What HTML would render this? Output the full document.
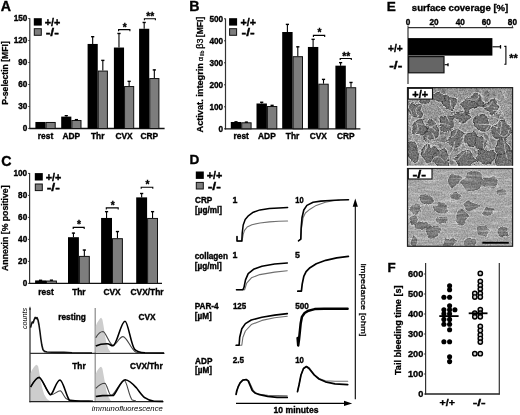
<!DOCTYPE html>
<html><head><meta charset="utf-8"><title>Figure</title>
<style>html,body{margin:0;padding:0;background:#fff;overflow:hidden;}svg{display:block;filter:blur(0.35px);}text{font-family:"Liberation Sans", Arial, sans-serif;fill:#000;}.b{stroke:#000;stroke-width:0.35px;}.b2{stroke:#000;stroke-width:0.25px;}</style>
</head><body>
<svg width="520" height="415" viewBox="0 0 520 415">
<rect width="520" height="415" fill="#fff"/>
<text id="t0" x="0.80" y="10.60" font-size="14.2" font-weight="bold" text-anchor="start" class="b" >A</text>
<line x1="29.8" y1="18.2" x2="29.8" y2="129.1" stroke="#333" stroke-width="1.2" />
<line x1="29.2" y1="128.5" x2="164.6" y2="128.5" stroke="#111" stroke-width="1.3" />
<line x1="28.3" y1="128.5" x2="29.8" y2="128.5" stroke="#333" stroke-width="1" />
<text id="t1" x="27.40" y="131.40" font-size="8.2" font-weight="bold" text-anchor="end" class="b" >0</text>
<line x1="28.3" y1="106.5" x2="29.8" y2="106.5" stroke="#333" stroke-width="1" />
<text id="t2" x="27.40" y="109.40" font-size="8.2" font-weight="bold" text-anchor="end" class="b" >30</text>
<line x1="28.3" y1="84.5" x2="29.8" y2="84.5" stroke="#333" stroke-width="1" />
<text id="t3" x="27.40" y="87.40" font-size="8.2" font-weight="bold" text-anchor="end" class="b" >60</text>
<line x1="28.3" y1="62.5" x2="29.8" y2="62.5" stroke="#333" stroke-width="1" />
<text id="t4" x="27.40" y="65.40" font-size="8.2" font-weight="bold" text-anchor="end" class="b" >90</text>
<line x1="28.3" y1="40.5" x2="29.8" y2="40.5" stroke="#333" stroke-width="1" />
<text id="t5" x="27.40" y="43.40" font-size="8.2" font-weight="bold" text-anchor="end" class="b" >120</text>
<line x1="28.3" y1="18.500000000000014" x2="29.8" y2="18.500000000000014" stroke="#333" stroke-width="1" />
<text id="t6" x="27.40" y="21.40" font-size="8.2" font-weight="bold" text-anchor="end" class="b" >150</text>
<rect x="35.40" y="121.97" width="10.15" height="6.53" fill="#000" />
<rect x="46.05" y="122.47" width="9.15" height="6.03" fill="#7d7d7d" stroke="#111" stroke-width="1"/>
<text id="t7" x="45.55" y="139.10" font-size="8.4" font-weight="bold" text-anchor="middle" class="b" >rest</text>
<rect x="61.20" y="116.62" width="10.15" height="11.88" fill="#000" />
<rect x="71.85" y="120.49" width="9.15" height="8.01" fill="#7d7d7d" stroke="#111" stroke-width="1"/>
<line x1="66.275" y1="116.62" x2="66.275" y2="115.37333333333333" stroke="#000" stroke-width="1.1" />
<line x1="64.67500000000001" y1="115.67333333333333" x2="67.875" y2="115.67333333333333" stroke="#000" stroke-width="1.4" />
<line x1="76.42500000000001" y1="119.99333333333334" x2="76.42500000000001" y2="119.33333333333333" stroke="#000" stroke-width="1.1" />
<line x1="74.82500000000002" y1="119.63333333333333" x2="78.025" y2="119.63333333333333" stroke="#000" stroke-width="1.4" />
<text id="t8" x="71.35" y="139.10" font-size="8.4" font-weight="bold" text-anchor="middle" class="b" >ADP</text>
<rect x="87.60" y="43.95" width="10.15" height="84.55" fill="#000" />
<rect x="98.25" y="71.07" width="9.15" height="57.43" fill="#7d7d7d" stroke="#111" stroke-width="1"/>
<line x1="92.675" y1="43.94666666666667" x2="92.675" y2="36.393333333333345" stroke="#000" stroke-width="1.1" />
<line x1="91.075" y1="36.69333333333334" x2="94.27499999999999" y2="36.69333333333334" stroke="#000" stroke-width="1.4" />
<line x1="102.82499999999999" y1="70.56666666666666" x2="102.82499999999999" y2="60.08000000000001" stroke="#000" stroke-width="1.1" />
<line x1="101.225" y1="60.38000000000001" x2="104.42499999999998" y2="60.38000000000001" stroke="#000" stroke-width="1.4" />
<text id="t9" x="97.75" y="139.10" font-size="8.4" font-weight="bold" text-anchor="middle" class="b" >Thr</text>
<rect x="113.90" y="47.54" width="10.15" height="80.96" fill="#000" />
<rect x="124.55" y="86.54" width="9.15" height="41.96" fill="#7d7d7d" stroke="#111" stroke-width="1"/>
<line x1="118.97500000000001" y1="47.540000000000006" x2="118.97500000000001" y2="33.16666666666667" stroke="#000" stroke-width="1.1" />
<line x1="117.37500000000001" y1="33.46666666666667" x2="120.575" y2="33.46666666666667" stroke="#000" stroke-width="1.4" />
<line x1="129.125" y1="86.04" x2="129.125" y2="81.05333333333334" stroke="#000" stroke-width="1.1" />
<line x1="127.525" y1="81.35333333333334" x2="130.725" y2="81.35333333333334" stroke="#000" stroke-width="1.4" />
<text id="t10" x="124.05" y="139.10" font-size="8.4" font-weight="bold" text-anchor="middle" class="b" >CVX</text>
<rect x="139.10" y="28.77" width="10.15" height="99.73" fill="#000" />
<rect x="149.75" y="78.55" width="9.15" height="49.95" fill="#7d7d7d" stroke="#111" stroke-width="1"/>
<line x1="144.17499999999998" y1="28.76666666666668" x2="144.17499999999998" y2="22.16666666666667" stroke="#000" stroke-width="1.1" />
<line x1="142.575" y1="22.466666666666672" x2="145.77499999999998" y2="22.466666666666672" stroke="#000" stroke-width="1.4" />
<line x1="154.325" y1="78.04666666666668" x2="154.325" y2="69.61333333333334" stroke="#000" stroke-width="1.1" />
<line x1="152.725" y1="69.91333333333334" x2="155.92499999999998" y2="69.91333333333334" stroke="#000" stroke-width="1.4" />
<text id="t11" x="149.25" y="139.10" font-size="8.4" font-weight="bold" text-anchor="middle" class="b" >CRP</text>
<path d="M118.6 31.200000000000003V29.6H129.9V31.200000000000003" fill="none" stroke="#000" stroke-width="1.1"/>
<text id="t12" x="124.65" y="30.60" font-size="10.2" font-weight="bold" text-anchor="middle" class="b" >*</text>
<path d="M144.4 20.3V18.7H155.4V20.3" fill="none" stroke="#000" stroke-width="1.1"/>
<text id="t13" x="150.30" y="19.70" font-size="10.2" font-weight="bold" text-anchor="middle" class="b" >**</text>
<rect x="33.80" y="18.20" width="8.00" height="7.40" fill="#000" />
<rect x="34.30" y="28.70" width="7" height="6.6000000000000005" fill="#7d7d7d" stroke="#111" stroke-width="1"/>
<text id="t14" x="44.70" y="26.10" font-size="10.4" font-weight="bold" text-anchor="start" class="b" textLength="15.6" lengthAdjust="spacingAndGlyphs" >+/+</text>
<text id="t15" x="45.70" y="36.10" font-size="10.4" font-weight="bold" text-anchor="start" class="b" textLength="13.2" lengthAdjust="spacingAndGlyphs" >-/-</text>
<text id="t16" transform="translate(8.00,73.00) rotate(-90)" font-size="8.6" font-weight="bold" text-anchor="middle" class="b2" >P-selectin [MFI]</text>
<text id="t17" x="189.20" y="10.60" font-size="14.2" font-weight="bold" text-anchor="start" class="b" >B</text>
<line x1="225.5" y1="18.5" x2="225.5" y2="129.4" stroke="#333" stroke-width="1.2" />
<line x1="224.9" y1="128.8" x2="360.4" y2="128.8" stroke="#111" stroke-width="1.3" />
<line x1="224.0" y1="128.8" x2="225.5" y2="128.8" stroke="#333" stroke-width="1" />
<text id="t18" x="223.10" y="131.70" font-size="8.2" font-weight="bold" text-anchor="end" class="b" >0</text>
<line x1="224.0" y1="106.80000000000001" x2="225.5" y2="106.80000000000001" stroke="#333" stroke-width="1" />
<text id="t19" x="223.10" y="109.70" font-size="8.2" font-weight="bold" text-anchor="end" class="b" >100</text>
<line x1="224.0" y1="84.80000000000001" x2="225.5" y2="84.80000000000001" stroke="#333" stroke-width="1" />
<text id="t20" x="223.10" y="87.70" font-size="8.2" font-weight="bold" text-anchor="end" class="b" >200</text>
<line x1="224.0" y1="62.80000000000001" x2="225.5" y2="62.80000000000001" stroke="#333" stroke-width="1" />
<text id="t21" x="223.10" y="65.70" font-size="8.2" font-weight="bold" text-anchor="end" class="b" >300</text>
<line x1="224.0" y1="40.80000000000001" x2="225.5" y2="40.80000000000001" stroke="#333" stroke-width="1" />
<text id="t22" x="223.10" y="43.70" font-size="8.2" font-weight="bold" text-anchor="end" class="b" >400</text>
<line x1="224.0" y1="18.80000000000001" x2="225.5" y2="18.80000000000001" stroke="#333" stroke-width="1" />
<text id="t23" x="223.10" y="21.70" font-size="8.2" font-weight="bold" text-anchor="end" class="b" >500</text>
<rect x="230.80" y="121.98" width="10.40" height="6.82" fill="#000" />
<rect x="241.70" y="122.81" width="9.40" height="5.99" fill="#7d7d7d" stroke="#111" stroke-width="1"/>
<line x1="236.0" y1="121.98000000000002" x2="236.0" y2="121.54" stroke="#000" stroke-width="1.1" />
<line x1="234.4" y1="121.84" x2="237.6" y2="121.84" stroke="#000" stroke-width="1.4" />
<line x1="246.4" y1="122.31000000000002" x2="246.4" y2="121.87" stroke="#000" stroke-width="1.1" />
<line x1="244.8" y1="122.17" x2="248.0" y2="122.17" stroke="#000" stroke-width="1.4" />
<text id="t24" x="241.20" y="139.40" font-size="8.4" font-weight="bold" text-anchor="middle" class="b" >rest</text>
<rect x="256.50" y="103.50" width="10.40" height="25.30" fill="#000" />
<rect x="267.40" y="106.51" width="9.40" height="22.29" fill="#7d7d7d" stroke="#111" stroke-width="1"/>
<line x1="261.7" y1="103.50000000000001" x2="261.7" y2="101.96000000000001" stroke="#000" stroke-width="1.1" />
<line x1="260.09999999999997" y1="102.26" x2="263.3" y2="102.26" stroke="#000" stroke-width="1.4" />
<line x1="272.1" y1="106.00800000000001" x2="272.1" y2="105.04" stroke="#000" stroke-width="1.1" />
<line x1="270.5" y1="105.34" x2="273.70000000000005" y2="105.34" stroke="#000" stroke-width="1.4" />
<text id="t25" x="266.90" y="139.40" font-size="8.4" font-weight="bold" text-anchor="middle" class="b" >ADP</text>
<rect x="282.20" y="32.00" width="10.40" height="96.80" fill="#000" />
<rect x="293.10" y="56.70" width="9.40" height="72.10" fill="#7d7d7d" stroke="#111" stroke-width="1"/>
<line x1="287.4" y1="32.000000000000014" x2="287.4" y2="24.080000000000013" stroke="#000" stroke-width="1.1" />
<line x1="285.79999999999995" y1="24.380000000000013" x2="289.0" y2="24.380000000000013" stroke="#000" stroke-width="1.4" />
<line x1="297.8" y1="56.20000000000002" x2="297.8" y2="46.52000000000001" stroke="#000" stroke-width="1.1" />
<line x1="296.2" y1="46.82000000000001" x2="299.40000000000003" y2="46.82000000000001" stroke="#000" stroke-width="1.4" />
<text id="t26" x="292.60" y="139.40" font-size="8.4" font-weight="bold" text-anchor="middle" class="b" >Thr</text>
<rect x="307.90" y="46.96" width="10.40" height="81.84" fill="#000" />
<rect x="318.80" y="84.20" width="9.40" height="44.60" fill="#7d7d7d" stroke="#111" stroke-width="1"/>
<line x1="313.09999999999997" y1="46.96000000000001" x2="313.09999999999997" y2="39.040000000000006" stroke="#000" stroke-width="1.1" />
<line x1="311.49999999999994" y1="39.34" x2="314.7" y2="39.34" stroke="#000" stroke-width="1.4" />
<line x1="323.5" y1="83.70000000000002" x2="323.5" y2="79.08000000000001" stroke="#000" stroke-width="1.1" />
<line x1="321.9" y1="79.38000000000001" x2="325.1" y2="79.38000000000001" stroke="#000" stroke-width="1.4" />
<text id="t27" x="318.30" y="139.40" font-size="8.4" font-weight="bold" text-anchor="middle" class="b" >CVX</text>
<rect x="335.40" y="65.66" width="10.40" height="63.14" fill="#000" />
<rect x="346.30" y="87.72" width="9.40" height="41.08" fill="#7d7d7d" stroke="#111" stroke-width="1"/>
<line x1="340.59999999999997" y1="65.66000000000001" x2="340.59999999999997" y2="62.360000000000014" stroke="#000" stroke-width="1.1" />
<line x1="338.99999999999994" y1="62.66000000000001" x2="342.2" y2="62.66000000000001" stroke="#000" stroke-width="1.4" />
<line x1="351.0" y1="87.22000000000001" x2="351.0" y2="82.16000000000001" stroke="#000" stroke-width="1.1" />
<line x1="349.4" y1="82.46000000000001" x2="352.6" y2="82.46000000000001" stroke="#000" stroke-width="1.4" />
<text id="t28" x="345.80" y="139.40" font-size="8.4" font-weight="bold" text-anchor="middle" class="b" >CRP</text>
<path d="M313.4 37.0V35.4H324.7V37.0" fill="none" stroke="#000" stroke-width="1.1"/>
<text id="t29" x="319.45" y="36.40" font-size="10.2" font-weight="bold" text-anchor="middle" class="b" >*</text>
<path d="M340.2 60.1V58.5H351.3V60.1" fill="none" stroke="#000" stroke-width="1.1"/>
<text id="t30" x="346.15" y="59.50" font-size="10.2" font-weight="bold" text-anchor="middle" class="b" >**</text>
<rect x="229.10" y="18.20" width="8.00" height="7.40" fill="#000" />
<rect x="229.60" y="28.70" width="7" height="6.6000000000000005" fill="#7d7d7d" stroke="#111" stroke-width="1"/>
<text id="t31" x="240.50" y="26.10" font-size="10.4" font-weight="bold" text-anchor="start" class="b" textLength="15.6" lengthAdjust="spacingAndGlyphs" >+/+</text>
<text id="t32" x="241.50" y="36.10" font-size="10.4" font-weight="bold" text-anchor="start" class="b" textLength="13.2" lengthAdjust="spacingAndGlyphs" >-/-</text>
<text id="t33" transform="translate(202.60,132.50) rotate(-90)" font-size="9.2" font-weight="bold" text-anchor="start" class="b2" >Activat. integrin</text>
<text id="t34" transform="translate(202.60,61.20) rotate(-90)" font-size="7.6" font-weight="normal" text-anchor="start" stroke="#000" stroke-width="0.25">&#945;</text>
<text id="t35" transform="translate(203.80,56.40) rotate(-90)" font-size="5.2" font-weight="normal" text-anchor="start" stroke="#000" stroke-width="0.2">IIb</text>
<text id="t36" transform="translate(202.60,48.80) rotate(-90)" font-size="9" font-weight="normal" text-anchor="start" stroke="#000" stroke-width="0.3">&#946;3</text>
<text id="t37" transform="translate(202.60,37.20) rotate(-90)" font-size="8.6" font-weight="bold" text-anchor="start" class="b2" >[MFI]</text>
<text id="t38" x="1.20" y="166.20" font-size="14.2" font-weight="bold" text-anchor="start" class="b" >C</text>
<line x1="29.6" y1="173" x2="29.6" y2="284.0" stroke="#333" stroke-width="1.2" />
<line x1="29.0" y1="283.4" x2="162" y2="283.4" stroke="#111" stroke-width="1.3" />
<line x1="28.1" y1="283.4" x2="29.6" y2="283.4" stroke="#333" stroke-width="1" />
<text id="t39" x="27.20" y="286.30" font-size="8.2" font-weight="bold" text-anchor="end" class="b" >0</text>
<line x1="28.1" y1="261.4" x2="29.6" y2="261.4" stroke="#333" stroke-width="1" />
<text id="t40" x="27.20" y="264.30" font-size="8.2" font-weight="bold" text-anchor="end" class="b" >20</text>
<line x1="28.1" y1="239.39999999999998" x2="29.6" y2="239.39999999999998" stroke="#333" stroke-width="1" />
<text id="t41" x="27.20" y="242.30" font-size="8.2" font-weight="bold" text-anchor="end" class="b" >40</text>
<line x1="28.1" y1="217.39999999999998" x2="29.6" y2="217.39999999999998" stroke="#333" stroke-width="1" />
<text id="t42" x="27.20" y="220.30" font-size="8.2" font-weight="bold" text-anchor="end" class="b" >60</text>
<line x1="28.1" y1="195.39999999999998" x2="29.6" y2="195.39999999999998" stroke="#333" stroke-width="1" />
<text id="t43" x="27.20" y="198.30" font-size="8.2" font-weight="bold" text-anchor="end" class="b" >80</text>
<line x1="28.1" y1="173.39999999999998" x2="29.6" y2="173.39999999999998" stroke="#333" stroke-width="1" />
<text id="t44" x="27.20" y="176.30" font-size="8.2" font-weight="bold" text-anchor="end" class="b" >100</text>
<rect x="35.10" y="280.43" width="10.90" height="2.97" fill="#000" />
<rect x="46.50" y="281.04" width="9.90" height="2.36" fill="#7d7d7d" stroke="#111" stroke-width="1"/>
<line x1="40.550000000000004" y1="280.42999999999995" x2="40.550000000000004" y2="279.98999999999995" stroke="#000" stroke-width="1.1" />
<line x1="38.95" y1="280.28999999999996" x2="42.150000000000006" y2="280.28999999999996" stroke="#000" stroke-width="1.4" />
<line x1="51.45" y1="280.53999999999996" x2="51.45" y2="279.88" stroke="#000" stroke-width="1.1" />
<line x1="49.85" y1="280.18" x2="53.050000000000004" y2="280.18" stroke="#000" stroke-width="1.4" />
<text id="t45" x="46.00" y="295.00" font-size="8.4" font-weight="bold" text-anchor="middle" class="b" >rest</text>
<rect x="68.00" y="237.20" width="10.90" height="46.20" fill="#000" />
<rect x="79.40" y="256.40" width="9.90" height="27.00" fill="#7d7d7d" stroke="#111" stroke-width="1"/>
<line x1="73.45" y1="237.2" x2="73.45" y2="232.79999999999998" stroke="#000" stroke-width="1.1" />
<line x1="71.85000000000001" y1="233.1" x2="75.05" y2="233.1" stroke="#000" stroke-width="1.4" />
<line x1="84.35" y1="255.89999999999998" x2="84.35" y2="249.73999999999998" stroke="#000" stroke-width="1.1" />
<line x1="82.75" y1="250.04" x2="85.94999999999999" y2="250.04" stroke="#000" stroke-width="1.4" />
<text id="t46" x="78.90" y="295.00" font-size="8.4" font-weight="bold" text-anchor="middle" class="b" >Thr</text>
<rect x="101.10" y="217.95" width="10.90" height="65.45" fill="#000" />
<rect x="112.50" y="238.69" width="9.90" height="44.71" fill="#7d7d7d" stroke="#111" stroke-width="1"/>
<line x1="106.55" y1="217.95" x2="106.55" y2="211.34999999999997" stroke="#000" stroke-width="1.1" />
<line x1="104.95" y1="211.64999999999998" x2="108.14999999999999" y2="211.64999999999998" stroke="#000" stroke-width="1.4" />
<line x1="117.44999999999999" y1="238.18999999999997" x2="117.44999999999999" y2="231.26" stroke="#000" stroke-width="1.1" />
<line x1="115.85" y1="231.56" x2="119.04999999999998" y2="231.56" stroke="#000" stroke-width="1.4" />
<text id="t47" x="112.00" y="295.00" font-size="8.4" font-weight="bold" text-anchor="middle" class="b" >CVX</text>
<rect x="136.20" y="197.38" width="10.90" height="86.02" fill="#000" />
<rect x="147.60" y="218.45" width="9.90" height="64.95" fill="#7d7d7d" stroke="#111" stroke-width="1"/>
<line x1="141.64999999999998" y1="197.37999999999997" x2="141.64999999999998" y2="193.2" stroke="#000" stroke-width="1.1" />
<line x1="140.04999999999998" y1="193.5" x2="143.24999999999997" y2="193.5" stroke="#000" stroke-width="1.4" />
<line x1="152.54999999999998" y1="217.95" x2="152.54999999999998" y2="211.34999999999997" stroke="#000" stroke-width="1.1" />
<line x1="150.95" y1="211.64999999999998" x2="154.14999999999998" y2="211.64999999999998" stroke="#000" stroke-width="1.4" />
<text id="t48" x="147.10" y="295.00" font-size="8.4" font-weight="bold" text-anchor="middle" class="b" >CVX/Thr</text>
<path d="M73.2 229.0V227.4H84.2V229.0" fill="none" stroke="#000" stroke-width="1.1"/>
<text id="t49" x="79.10" y="228.40" font-size="10.2" font-weight="bold" text-anchor="middle" class="b" >*</text>
<path d="M106.3 209.5V207.9H118.2V209.5" fill="none" stroke="#000" stroke-width="1.1"/>
<text id="t50" x="112.65" y="208.90" font-size="10.2" font-weight="bold" text-anchor="middle" class="b" >*</text>
<path d="M141.2 188.79999999999998V187.2H152.8V188.79999999999998" fill="none" stroke="#000" stroke-width="1.1"/>
<text id="t51" x="147.40" y="188.20" font-size="10.2" font-weight="bold" text-anchor="middle" class="b" >*</text>
<rect x="34.80" y="173.10" width="8.00" height="7.40" fill="#000" />
<rect x="35.30" y="184.00" width="7" height="6.6000000000000005" fill="#7d7d7d" stroke="#111" stroke-width="1"/>
<text id="t52" x="45.70" y="181.00" font-size="10.4" font-weight="bold" text-anchor="start" class="b" textLength="15.6" lengthAdjust="spacingAndGlyphs" >+/+</text>
<text id="t53" x="46.70" y="191.40" font-size="10.4" font-weight="bold" text-anchor="start" class="b" textLength="13.2" lengthAdjust="spacingAndGlyphs" >-/-</text>
<text id="t54" transform="translate(8.20,228.20) rotate(-90)" font-size="8.6" font-weight="bold" text-anchor="middle" class="b2" textLength="85.5" lengthAdjust="spacingAndGlyphs" >Annexin [% positive]</text>
<line x1="30" y1="309" x2="30" y2="402.2" stroke="#222" stroke-width="1.2" />
<path d="M28.9 309.5L30 306.2L31.1 309.5Z" fill="#111"/>
<line x1="95.2" y1="308" x2="95.2" y2="402.2" stroke="#888" stroke-width="1.2" />
<line x1="30" y1="353.3" x2="164.5" y2="353.3" stroke="#333" stroke-width="1.2" />
<line x1="29.4" y1="401.6" x2="163.5" y2="401.6" stroke="#222" stroke-width="1.3" />
<text id="t55" transform="translate(27.00,318.40) rotate(-90)" font-size="7.2" font-weight="normal" text-anchor="middle" font-style="italic">counts</text>
<text id="t56" x="58.20" y="320.40" font-size="8.3" font-weight="bold" text-anchor="start" class="b" >resting</text>
<text id="t57" x="138.50" y="320.20" font-size="8.3" font-weight="bold" text-anchor="start" class="b" >CVX</text>
<text id="t58" x="72.30" y="368.60" font-size="8.3" font-weight="bold" text-anchor="start" class="b" >Thr</text>
<text id="t59" x="129.90" y="368.80" font-size="8.3" font-weight="bold" text-anchor="start" class="b" >CVX/Thr</text>
<text id="t60" x="127.30" y="410.80" font-size="7.7" font-weight="normal" text-anchor="middle" font-style="italic">immunofluorescence</text>
<path d="M30.6 327.7 L31.2 325.0 L32.2 322.0 L33.2 322.8 L34.2 319.5 L35.2 317.4 L36.1 318.6 L37.0 317.6 L38.0 320.0 L39.0 325.0 L40.0 332.0 L40.8 338.5 L41.8 345.0 L43.0 349.8 L44.5 351.4 L47.0 352.0 L52.0 352.2 L58.0 352.4 L64.0 352.3 L72.0 352.8 L92.0 353.0" fill="none" stroke="#111" stroke-width="1.6" stroke-linejoin="round"/>
<path d="M95.8 326 L97 323 L99 320 L100.2 318.2 L101.2 317.8 L102.4 319.5 L103.4 325 L104.8 334 L106.2 342 L108.2 348.5 L111 352.8 L95.8 352.8Z" fill="#cdcdcd"/>
<path d="M95.8 337.7 C98 334 101 331.5 103 331.5 C106 332 109 344 113 345.4 C116 346 119 336.6 123 336.6 C127 336.6 131 350 136 352.3 L140 353" fill="none" stroke="#444" stroke-width="1.1"/>
<path d="M95.8 346 C100 344 104 343.8 107 343.8 C110 343.8 111 346 113 345.8 C117 345 121 321.2 125 321.2 C128 321.2 131 345 134.6 349.2 C137 352 140 352.5 145 352.8 L164 353" fill="none" stroke="#000" stroke-width="1.6"/>
<path d="M30.6 373 L32 370 L34 367 L35.6 365.2 L36.9 364.8 L38.2 366.5 L39.2 372 L40.6 380 L42.2 388 L44.2 394.5 L47 399 L50 401 L30.6 401Z" fill="#cdcdcd"/>
<path d="M30.6 387 C33 383 36 377 39.2 377 C42 378 46 390 50 394.6 C53 396 57 390.8 60.3 390.8 C62 391 64 397 66 398.5 L70 400.5" fill="none" stroke="#444" stroke-width="1.1"/>
<path d="M30.6 387 C33 383 36 377.5 39.2 377.5 C42 378 46 390 50 394.6 C53 396 56 380 60 380 C63 380.5 66 395 69.2 400 C71 401 80 401 93 401.2" fill="none" stroke="#000" stroke-width="1.6"/>
<path d="M95.8 374 L97 371 L98.8 368.5 L100.2 367 L101.2 366.8 L102.4 368.5 L103.4 374 L104.8 382 L106.2 390 L108.2 396.5 L111 401 L95.8 401Z" fill="#cdcdcd"/>
<path d="M95.8 388.3 C99 385 102 383.2 104.9 383.2 C107 384 109 395.4 111 395.4 C115 395 120 380.5 124.4 380.5 C127 381 129 397 132.3 400 L136 401" fill="none" stroke="#444" stroke-width="1.1"/>
<path d="M95.8 396.6 C100 395.5 108 395.4 113.5 395.4 C117 392 121 379.7 125.2 379.7 C129 380 133 384 136.2 387.6 C139 391 142 396 144.8 397.7 C148 400 151 401 154.2 401.3 L163 401.4" fill="none" stroke="#000" stroke-width="1.6"/>
<text id="t61" x="189.50" y="164.40" font-size="13.6" font-weight="bold" text-anchor="start" class="b" >D</text>
<rect x="195.80" y="171.50" width="8.00" height="7.40" fill="#000" />
<rect x="196.30" y="182.40" width="7" height="6.6000000000000005" fill="#7d7d7d" stroke="#111" stroke-width="1"/>
<text id="t62" x="206.70" y="179.40" font-size="10.4" font-weight="bold" text-anchor="start" class="b" textLength="15.6" lengthAdjust="spacingAndGlyphs" >+/+</text>
<text id="t63" x="207.70" y="189.80" font-size="10.4" font-weight="bold" text-anchor="start" class="b" textLength="13.2" lengthAdjust="spacingAndGlyphs" >-/-</text>
<text id="t64" x="195.00" y="203.20" font-size="8.2" font-weight="bold" text-anchor="start" class="b" >CRP</text>
<text id="t65" x="195.00" y="212.50" font-size="8.2" font-weight="bold" text-anchor="start" class="b" >[&#181;g/ml]</text>
<text id="t66" x="194.70" y="258.90" font-size="8.2" font-weight="bold" text-anchor="start" class="b" >collagen</text>
<text id="t67" x="194.70" y="268.90" font-size="8.2" font-weight="bold" text-anchor="start" class="b" >[&#181;g/ml]</text>
<text id="t68" x="194.70" y="309.40" font-size="8.2" font-weight="bold" text-anchor="start" class="b" >PAR-4</text>
<text id="t69" x="194.70" y="318.90" font-size="8.2" font-weight="bold" text-anchor="start" class="b" >[&#181;M]</text>
<text id="t70" x="195.10" y="363.70" font-size="8.2" font-weight="bold" text-anchor="start" class="b" >ADP</text>
<text id="t71" x="195.10" y="373.10" font-size="8.2" font-weight="bold" text-anchor="start" class="b" >[&#181;M]</text>
<text id="t72" x="232.50" y="202.70" font-size="8.8" font-weight="bold" text-anchor="start" class="b" >1</text>
<text id="t73" x="295.20" y="202.50" font-size="8.8" font-weight="bold" text-anchor="start" class="b" textLength="8.4" lengthAdjust="spacingAndGlyphs" >10</text>
<text id="t74" x="232.50" y="258.40" font-size="8.8" font-weight="bold" text-anchor="start" class="b" >1</text>
<text id="t75" x="295.10" y="257.90" font-size="8.8" font-weight="bold" text-anchor="start" class="b" >5</text>
<text id="t76" x="232.90" y="308.70" font-size="8.8" font-weight="bold" text-anchor="start" class="b" textLength="13.4" lengthAdjust="spacingAndGlyphs" >125</text>
<text id="t77" x="295.20" y="308.70" font-size="8.8" font-weight="bold" text-anchor="start" class="b" textLength="13.7" lengthAdjust="spacingAndGlyphs" >500</text>
<text id="t78" x="232.70" y="363.00" font-size="8.8" font-weight="bold" text-anchor="start" class="b" textLength="11.3" lengthAdjust="spacingAndGlyphs" >2.5</text>
<text id="t79" x="295.20" y="363.00" font-size="8.8" font-weight="bold" text-anchor="start" class="b" textLength="8.7" lengthAdjust="spacingAndGlyphs" >10</text>
<line x1="355.3" y1="399.2" x2="355.3" y2="205" stroke="#000" stroke-width="1.1" />
<path d="M352.7 206.8L355.3 198.4L357.9 206.8Z" fill="#000"/>
<line x1="236" y1="403.4" x2="345" y2="403.4" stroke="#000" stroke-width="1.1" />
<path d="M344 400.8L352.2 403.4L344 406Z" fill="#000"/>
<text id="t80" x="296.00" y="412.50" font-size="8.6" font-weight="bold" text-anchor="middle" class="b" >10 minutes</text>
<text id="t81" transform="translate(360.80,300.00) rotate(90)" font-size="8.0" font-weight="normal" text-anchor="middle" textLength="73" lengthAdjust="spacingAndGlyphs" stroke="#000" stroke-width="0.3">impedance [ohm]</text>
<path d="M237.0 236.5 L237.0 241.1 L242.0 241.1 L243.2 234.4 L244.5 230.4 L247.2 227.0 L251.9 224.7 L260.0 223.0 L269.4 221.9 L278.8 221.2 L287.6 221.0" fill="none" stroke="#6f6f6f" stroke-width="1.1" stroke-linejoin="round" stroke-linecap="round"/>
<path d="M237.0 236.5 L237.0 241.1 L241.8 241.1 L242.2 233.1 L243.2 225.0 L245.2 219.6 L248.6 215.6 L253.3 212.2 L260.0 209.9 L269.4 208.6 L278.8 207.9 L287.6 207.5" fill="none" stroke="#000" stroke-width="1.5" stroke-linejoin="round" stroke-linecap="round"/>
<path d="M298.5 240.8 L300.8 239.2 L301.5 228.5 L303.1 217.7 L305.4 213.0 L310.0 209.2 L316.2 205.4 L325.4 202.3 L333.0 200.8 L339.2 200.2" fill="none" stroke="#6f6f6f" stroke-width="1.1" stroke-linejoin="round" stroke-linecap="round"/>
<path d="M298.5 240.8 L300.8 239.2 L301.1 228.5 L302.0 217.7 L303.8 210.0 L306.9 205.4 L313.1 202.3 L320.8 201.1 L330.0 200.5 L339.2 200.0 L348.5 199.7" fill="none" stroke="#000" stroke-width="1.6" stroke-linejoin="round" stroke-linecap="round"/>
<path d="M236.5 289.8 L243.5 289.8 L244.6 289.8 L246.7 283.1 L251.4 277.8 L259.8 274.6 L274.6 272.1 L287.3 270.8" fill="none" stroke="#6f6f6f" stroke-width="1.1" stroke-linejoin="round" stroke-linecap="round"/>
<path d="M236.5 289.8 L242.9 289.8 L244.0 287.3 L245.5 279.9 L248.2 273.6 L253.5 269.3 L261.9 266.2 L274.6 264.0 L287.3 263.0" fill="none" stroke="#000" stroke-width="1.6" stroke-linejoin="round" stroke-linecap="round"/>
<path d="M297.8 291.2 L301.4 291.2 L302.2 284.1 L303.8 276.3 L306.1 271.6 L310.0 267.7 L316.3 263.8 L325.7 260.3 L336.7 257.8 L348.4 256.3" fill="none" stroke="#000" stroke-width="1.7" stroke-linejoin="round" stroke-linecap="round"/>
<path d="M236.1 345.3 L239.1 345.3 L241.8 345.3 L242.9 337.3 L245.4 331.0 L251.3 324.6 L261.9 320.4 L274.6 317.8 L287.3 316.2" fill="none" stroke="#6f6f6f" stroke-width="1.1" stroke-linejoin="round" stroke-linecap="round"/>
<path d="M236.1 345.3 L239.1 345.3 L239.7 337.3 L241.8 328.8 L245.4 323.6 L251.3 320.0 L261.9 317.2 L274.6 315.1 L287.3 313.6" fill="none" stroke="#000" stroke-width="1.6" stroke-linejoin="round" stroke-linecap="round"/>
<path d="M297.6 338.0 L298.2 345.5 L299.1 338.8 L299.9 331.0 L300.7 323.2 L301.9 316.9 L304.6 313.0 L308.5 310.7 L314.7 309.1 L324.1 308.8 L347.6 308.8" fill="none" stroke="#000" stroke-width="2.5" stroke-linejoin="round" stroke-linecap="round"/>
<path d="M236.1 394.3 L238.1 386.9 L240.1 382.9 L242.8 380.2 L246.2 379.8 L248.8 381.0 L251.0 385.6 L253.2 390.3 L255.9 393.0 L260.6 394.5 L267.7 395.3 L277.1 395.6 L287.2 395.7" fill="none" stroke="#6f6f6f" stroke-width="1.1" stroke-linejoin="round" stroke-linecap="round"/>
<path d="M236.1 394.3 L236.7 391.0 L238.1 386.9 L240.1 382.9 L242.8 380.2 L246.2 379.5 L248.2 380.9 L250.2 385.6 L252.2 390.3 L254.9 393.0 L259.6 394.7 L267.7 396.3 L277.1 397.3 L287.2 397.4" fill="none" stroke="#000" stroke-width="1.7" stroke-linejoin="round" stroke-linecap="round"/>
<path d="M297.5 391.6 L299.0 385.0 L301.0 375.0 L303.5 368.5 L306.8 366.5 L309.5 368.0 L314.2 374.9 L319.0 378.5 L325.4 380.8 L335.0 381.3 L347.7 381.3" fill="none" stroke="#6f6f6f" stroke-width="1.1" stroke-linejoin="round" stroke-linecap="round"/>
<path d="M297.5 391.6 L299.0 385.0 L301.0 375.0 L303.5 368.5 L306.4 366.5 L309.0 368.5 L314.2 374.9 L319.0 379.0 L325.4 381.8 L335.0 383.8 L347.7 384.6" fill="none" stroke="#000" stroke-width="1.7" stroke-linejoin="round" stroke-linecap="round"/>
<text id="t82" x="386.80" y="10.50" font-size="13.6" font-weight="bold" text-anchor="start" class="b" >E</text>
<text id="t83" x="411.80" y="10.60" font-size="9.6" font-weight="bold" text-anchor="start" class="b" >surface coverage [%]</text>
<line x1="408" y1="27.6" x2="513.3" y2="27.6" stroke="#333" stroke-width="1.2" />
<line x1="408" y1="27.6" x2="408" y2="84" stroke="#333" stroke-width="1.2" />
<line x1="408.0" y1="25.5" x2="408.0" y2="27.6" stroke="#333" stroke-width="1" />
<text id="t84" x="408.00" y="24.90" font-size="8.2" font-weight="bold" text-anchor="middle" class="b" >0</text>
<line x1="434.1" y1="25.5" x2="434.1" y2="27.6" stroke="#333" stroke-width="1" />
<text id="t85" x="434.10" y="24.90" font-size="8.2" font-weight="bold" text-anchor="middle" class="b" >20</text>
<line x1="460.2" y1="25.5" x2="460.2" y2="27.6" stroke="#333" stroke-width="1" />
<text id="t86" x="460.20" y="24.90" font-size="8.2" font-weight="bold" text-anchor="middle" class="b" >40</text>
<line x1="486.3" y1="25.5" x2="486.3" y2="27.6" stroke="#333" stroke-width="1" />
<text id="t87" x="486.30" y="24.90" font-size="8.2" font-weight="bold" text-anchor="middle" class="b" >60</text>
<line x1="512.4" y1="25.5" x2="512.4" y2="27.6" stroke="#333" stroke-width="1" />
<text id="t88" x="512.40" y="24.90" font-size="8.2" font-weight="bold" text-anchor="middle" class="b" >80</text>
<rect x="408.00" y="38.10" width="84.40" height="17.50" fill="#000" />
<rect x="408.6" y="56.6" width="35.4" height="16.2" fill="#656565" stroke="#111" stroke-width="1.2"/>
<line x1="492.4" y1="46.8" x2="500.5" y2="46.8" stroke="#000" stroke-width="1.1" />
<line x1="500.5" y1="45.1" x2="500.5" y2="48.6" stroke="#000" stroke-width="1.3" />
<line x1="444.6" y1="64.7" x2="448" y2="64.7" stroke="#000" stroke-width="1.1" />
<line x1="448" y1="63.2" x2="448" y2="66.2" stroke="#000" stroke-width="1.3" />
<path d="M504.3 46.4H505.9V64.3H504.3" fill="none" stroke="#000" stroke-width="1.1"/>
<text id="t89" x="513.60" y="62.40" font-size="11" font-weight="bold" text-anchor="middle" class="b" >**</text>
<text id="t90" x="388.10" y="51.50" font-size="10.2" font-weight="bold" text-anchor="start" class="b" >+/+</text>
<text id="t91" x="389.20" y="69.20" font-size="10.2" font-weight="bold" text-anchor="start" class="b" textLength="13.1" lengthAdjust="spacingAndGlyphs" >-/-</text>
<defs>
<clipPath id="cT"><rect x="407.5" y="87.6" width="105.10000000000002" height="78.20000000000002"/></clipPath>
<clipPath id="cB"><rect x="407.5" y="168.5" width="105.10000000000002" height="77.80000000000001"/></clipPath>
<filter id="nz" x="0" y="0" width="100%" height="100%"><feTurbulence type="fractalNoise" baseFrequency="0.7" numOctaves="2" seed="7"/><feColorMatrix type="matrix" values="0 0 0 0 0  0 0 0 0 0  0 0 0 0 0  1.6 0 0 0 -0.55"/></filter>
<filter id="nz2" x="0" y="0" width="100%" height="100%"><feTurbulence type="fractalNoise" baseFrequency="0.6" numOctaves="2" seed="3"/><feColorMatrix type="matrix" values="0 0 0 0 1  0 0 0 0 1  0 0 0 0 1  0 1.6 0 0 -0.6"/></filter>
<filter id="sm" x="-10%" y="-10%" width="120%" height="120%"><feGaussianBlur stdDeviation="0.5"/></filter>
<filter id="stk" x="0" y="0" width="100%" height="100%"><feTurbulence type="fractalNoise" baseFrequency="0.04 0.45" numOctaves="2" seed="21"/><feColorMatrix type="matrix" values="0 0 0 0 0.25  0 0 0 0 0.25  0 0 0 0 0.25  0 0 1.8 0 -0.75"/></filter>
<filter id="stk2" x="0" y="0" width="100%" height="100%"><feTurbulence type="fractalNoise" baseFrequency="0.05 0.4" numOctaves="2" seed="8"/><feColorMatrix type="matrix" values="0 0 0 0 1  0 0 0 0 1  0 0 0 0 1  0 0 1.8 0 -0.8"/></filter>
<filter id="dsp" x="-5%" y="-5%" width="110%" height="110%"><feTurbulence type="turbulence" baseFrequency="0.07" numOctaves="1" seed="11" result="t"/><feDisplacementMap in="SourceGraphic" in2="t" scale="5" xChannelSelector="R" yChannelSelector="G"/></filter>
<filter id="dsp2" x="-5%" y="-5%" width="110%" height="110%"><feTurbulence type="turbulence" baseFrequency="0.08" numOctaves="1" seed="5" result="t"/><feDisplacementMap in="SourceGraphic" in2="t" scale="4" xChannelSelector="R" yChannelSelector="G"/></filter>
</defs>
<g clip-path="url(#cT)">
<rect x="407.50" y="87.60" width="105.10" height="78.20" fill="#a0a0a0" />
<path d="M451.2 103.2C451.3 103.6 451.2 104.1 450.9 104.4C450.6 104.8 449.8 105.4 449.5 105.3C449.1 105.2 449.0 104.4 448.7 103.9C448.4 103.3 447.7 102.6 447.9 102.2C448.0 101.9 449.1 101.7 449.6 101.7C450.1 101.7 450.5 102.0 450.7 102.3C451.0 102.5 451.2 102.9 451.2 103.2Z" fill="#7c7c7c"/>
<path d="M488.9 107.2C488.9 107.9 488.9 108.7 488.6 109.0C488.3 109.2 487.5 109.0 487.0 108.8C486.5 108.7 486.0 108.7 485.6 108.2C485.3 107.7 484.8 106.6 485.0 105.9C485.2 105.3 486.2 104.5 486.8 104.4C487.4 104.3 488.4 104.8 488.7 105.3C489.1 105.8 489.0 106.6 488.9 107.2Z" fill="#7c7c7c"/>
<path d="M467.0 161.0C467.1 161.6 466.4 162.5 465.8 162.8C465.2 163.1 464.2 163.1 463.6 162.9C463.0 162.7 462.7 162.2 462.3 161.7C462.0 161.2 461.4 160.5 461.6 159.9C461.8 159.4 462.7 158.3 463.4 158.2C464.0 158.1 465.0 158.9 465.6 159.4C466.2 159.9 467.0 160.4 467.0 161.0Z" fill="#7c7c7c"/>
<path d="M474.3 104.5C474.3 105.2 475.0 106.2 474.5 106.5C474.0 106.9 472.0 106.9 471.2 106.7C470.3 106.5 470.0 105.8 469.6 105.3C469.1 104.7 468.1 104.0 468.4 103.5C468.7 103.0 470.1 102.6 471.2 102.4C472.2 102.3 474.0 102.2 474.5 102.6C475.0 102.9 474.3 103.9 474.3 104.5Z" fill="#7c7c7c"/>
<path d="M450.0 141.0C449.9 141.6 449.4 141.9 449.1 142.3C448.7 142.8 448.2 143.6 447.9 143.5C447.5 143.4 447.3 142.4 447.1 141.8C446.9 141.2 446.5 140.4 446.7 139.9C446.8 139.4 447.5 139.0 447.9 138.8C448.4 138.6 449.2 138.4 449.6 138.7C449.9 139.1 450.0 140.4 450.0 141.0Z" fill="#7c7c7c"/>
<path d="M500.1 114.1C500.0 114.8 499.9 115.8 499.3 116.2C498.6 116.6 497.0 116.6 496.1 116.4C495.1 116.2 494.3 115.7 493.8 115.1C493.3 114.5 492.7 113.3 493.1 112.9C493.5 112.4 495.1 112.5 496.2 112.3C497.3 112.1 499.0 111.4 499.7 111.7C500.3 112.0 500.1 113.4 500.1 114.1Z" fill="#7c7c7c"/>
<path d="M490.4 124.3C490.4 124.7 490.5 125.2 490.1 125.6C489.8 125.9 488.9 126.5 488.3 126.4C487.7 126.4 486.7 125.8 486.3 125.3C486.0 124.8 485.9 123.8 486.2 123.2C486.6 122.6 487.6 121.8 488.2 121.8C488.8 121.8 489.7 122.7 490.0 123.1C490.4 123.5 490.4 123.9 490.4 124.3Z" fill="#7c7c7c"/>
<path d="M411.8 103.5C411.9 104.1 411.5 105.1 410.7 105.5C410.0 106.0 408.2 106.5 407.3 106.3C406.5 106.1 406.0 104.9 405.8 104.3C405.5 103.7 405.6 103.3 405.9 102.8C406.2 102.2 406.7 101.2 407.4 101.0C408.2 100.9 409.5 101.5 410.2 101.9C411.0 102.3 411.7 102.9 411.8 103.5Z" fill="#7c7c7c"/>
<path d="M458.4 158.0C458.3 158.9 458.5 160.4 458.1 160.8C457.6 161.1 456.5 160.2 455.6 160.0C454.8 159.8 453.4 160.1 453.1 159.6C452.8 159.0 453.7 157.7 454.0 156.9C454.4 156.2 454.8 155.3 455.4 155.0C456.1 154.7 457.7 154.6 458.1 155.1C458.6 155.7 458.4 157.1 458.4 158.0Z" fill="#7c7c7c"/>
<path d="M448.6 104.5C448.5 104.8 447.2 105.0 446.5 105.4C445.7 105.8 444.7 106.8 444.1 106.7C443.4 106.7 442.9 105.6 442.5 105.1C442.1 104.6 441.4 104.0 441.8 103.6C442.1 103.3 443.6 103.2 444.5 103.2C445.4 103.1 446.3 103.0 447.0 103.2C447.6 103.5 448.6 104.1 448.6 104.5Z" fill="#7c7c7c"/>
<path d="M493.9 134.2C494.0 134.9 493.8 136.2 493.2 136.7C492.5 137.3 490.7 137.7 489.8 137.5C488.9 137.2 488.1 136.1 487.8 135.3C487.6 134.6 487.9 133.7 488.3 133.2C488.7 132.7 489.5 132.4 490.2 132.3C490.9 132.1 491.9 131.9 492.6 132.2C493.2 132.5 493.8 133.4 493.9 134.2Z" fill="#7c7c7c"/>
<path d="M478.5 90.5C478.5 91.2 478.3 92.3 478.0 92.5C477.7 92.8 477.2 92.1 476.7 91.9C476.2 91.8 475.3 92.1 475.1 91.7C474.9 91.3 475.1 90.1 475.4 89.5C475.6 88.9 476.1 88.3 476.5 88.1C477.0 87.9 477.8 88.0 478.1 88.4C478.4 88.7 478.5 89.8 478.5 90.5Z" fill="#7c7c7c"/>
<path d="M495.8 93.9C496.0 94.4 496.1 95.3 495.6 95.7C495.1 96.0 493.6 96.0 493.0 95.8C492.5 95.6 492.4 94.9 492.2 94.4C491.9 94.0 491.3 93.5 491.4 93.2C491.6 92.9 492.7 92.8 493.3 92.7C493.8 92.7 494.2 92.9 494.6 93.1C495.1 93.3 495.7 93.5 495.8 93.9Z" fill="#7c7c7c"/>
<path d="M441.7 88.0C441.7 88.5 441.5 89.2 441.1 89.5C440.8 89.7 440.2 89.6 439.7 89.5C439.3 89.4 438.5 89.4 438.2 89.0C438.0 88.6 437.9 87.5 438.1 87.0C438.3 86.6 439.1 86.2 439.6 86.1C440.2 86.0 440.9 86.1 441.3 86.4C441.6 86.8 441.7 87.5 441.7 88.0Z" fill="#7c7c7c"/>
<path d="M430.2 149.2C430.3 149.5 429.8 150.2 429.5 150.4C429.2 150.7 428.7 150.8 428.3 150.7C427.9 150.6 427.3 150.4 427.1 150.0C426.9 149.6 427.0 148.8 427.2 148.4C427.4 148.0 428.0 147.8 428.3 147.7C428.7 147.7 429.0 148.0 429.3 148.2C429.6 148.4 430.2 148.8 430.2 149.2Z" fill="#7c7c7c"/>
<path d="M436.6 119.2C436.8 119.8 437.4 121.0 437.0 121.3C436.6 121.5 434.9 120.8 434.1 120.6C433.3 120.4 432.5 120.3 432.3 119.9C432.0 119.6 432.3 118.9 432.6 118.6C432.9 118.2 433.5 118.0 434.1 117.9C434.7 117.7 435.9 117.5 436.3 117.7C436.7 118.0 436.5 118.6 436.6 119.2Z" fill="#7c7c7c"/>
<path d="M482.7 159.7C482.8 160.4 482.2 161.6 481.8 162.1C481.3 162.6 480.6 163.0 480.1 162.8C479.6 162.6 479.2 161.6 479.0 160.9C478.8 160.2 478.9 159.3 479.1 158.6C479.3 157.9 479.7 157.0 480.1 156.8C480.5 156.7 481.0 157.4 481.5 157.9C481.9 158.4 482.7 159.0 482.7 159.7Z" fill="#7c7c7c"/>
<path d="M474.1 146.0C474.1 146.5 472.6 147.1 471.9 147.4C471.2 147.7 470.6 147.8 470.0 147.7C469.5 147.6 468.8 147.2 468.5 146.8C468.2 146.4 468.1 145.6 468.4 145.2C468.6 144.8 469.4 144.4 470.0 144.3C470.6 144.2 471.3 144.3 472.0 144.6C472.7 144.9 474.1 145.6 474.1 146.0Z" fill="#7c7c7c"/>
<path d="M419.2 98.8C419.2 99.2 418.8 99.5 418.5 99.8C418.1 100.2 417.5 101.1 417.1 101.1C416.7 101.0 416.3 100.0 416.2 99.5C416.0 99.0 416.2 98.7 416.3 98.2C416.5 97.7 416.8 96.7 417.1 96.6C417.5 96.6 418.1 97.5 418.4 97.9C418.8 98.3 419.2 98.5 419.2 98.8Z" fill="#7c7c7c"/>
<path d="M425.8 103.8C425.8 104.4 424.8 105.4 424.2 105.7C423.7 106.0 423.1 105.7 422.4 105.6C421.7 105.5 420.3 105.6 420.1 105.2C419.9 104.7 420.7 103.6 421.1 103.0C421.5 102.4 421.8 101.8 422.3 101.6C422.8 101.5 423.7 101.6 424.2 102.0C424.8 102.4 425.8 103.2 425.8 103.8Z" fill="#7c7c7c"/>
<path d="M493.4 153.8C493.3 154.5 492.6 155.1 492.2 155.5C491.9 155.9 491.4 156.1 491.0 156.0C490.7 155.8 490.2 155.3 490.0 154.8C489.9 154.2 489.8 153.3 489.9 152.7C490.1 152.1 490.5 151.3 491.0 151.1C491.4 150.9 492.2 150.9 492.6 151.3C493.0 151.8 493.5 153.1 493.4 153.8Z" fill="#7c7c7c"/>
<path d="M428.7 93.3C428.7 93.8 428.3 94.3 428.0 94.6C427.6 94.9 427.2 95.2 426.7 95.2C426.1 95.2 424.9 95.0 424.8 94.5C424.6 94.1 425.2 93.1 425.5 92.4C425.8 91.8 426.0 90.7 426.5 90.5C426.9 90.4 427.8 91.1 428.2 91.6C428.6 92.0 428.8 92.8 428.7 93.3Z" fill="#7c7c7c"/>
<path d="M415.3 104.5C415.2 105.1 414.2 105.9 413.7 106.3C413.1 106.6 412.5 107.0 412.1 106.8C411.6 106.7 411.3 105.9 411.1 105.3C410.9 104.8 410.7 104.2 410.8 103.6C411.0 102.9 411.4 101.6 411.9 101.4C412.4 101.2 413.3 101.9 413.9 102.5C414.4 103.0 415.3 103.9 415.3 104.5Z" fill="#7c7c7c"/>
<path d="M451.5 120.0C451.4 120.4 451.2 121.0 450.8 121.2C450.4 121.5 449.6 121.5 449.0 121.5C448.4 121.4 447.7 121.1 447.4 120.7C447.2 120.3 447.2 119.7 447.5 119.3C447.7 118.8 448.3 118.3 448.9 118.2C449.5 118.1 450.7 118.2 451.1 118.5C451.6 118.7 451.5 119.5 451.5 120.0Z" fill="#7c7c7c"/>
<path d="M502.0 159.8C501.8 160.4 501.8 160.8 501.4 161.1C501.0 161.3 500.2 161.3 499.5 161.2C498.8 161.2 497.5 161.1 497.2 160.7C496.9 160.4 497.4 159.5 497.8 159.0C498.1 158.6 498.6 158.1 499.3 157.8C500.1 157.6 501.9 157.3 502.3 157.6C502.8 158.0 502.1 159.2 502.0 159.8Z" fill="#7c7c7c"/>
<path d="M457.4 112.0C457.2 112.6 456.2 113.1 455.6 113.5C454.9 114.0 454.2 114.8 453.4 114.8C452.7 114.7 451.3 114.0 450.9 113.3C450.5 112.7 450.8 111.3 451.3 110.7C451.7 110.2 452.8 110.3 453.7 110.1C454.5 109.9 455.8 109.2 456.4 109.5C457.0 109.8 457.5 111.3 457.4 112.0Z" fill="#7c7c7c"/>
<path d="M443.1 156.0C443.0 156.6 443.0 157.4 442.4 157.8C441.8 158.1 440.3 158.0 439.5 157.8C438.6 157.7 437.5 157.2 437.3 156.8C437.1 156.4 438.0 155.8 438.3 155.4C438.7 155.0 438.9 154.6 439.6 154.3C440.3 154.1 442.0 153.8 442.6 154.1C443.1 154.4 443.1 155.4 443.1 156.0Z" fill="#7c7c7c"/>
<path d="M494.4 140.3C494.5 140.9 494.5 141.8 494.1 142.2C493.7 142.5 492.5 142.7 492.1 142.5C491.6 142.3 491.6 141.5 491.3 140.9C491.0 140.4 490.2 139.8 490.4 139.3C490.5 138.8 491.5 138.2 492.0 138.1C492.6 138.0 493.3 138.5 493.7 138.9C494.1 139.3 494.4 139.8 494.4 140.3Z" fill="#7c7c7c"/>
<path d="M489.6 93.9C489.6 94.7 488.8 96.1 488.2 96.5C487.6 96.9 486.6 96.4 486.1 96.2C485.5 95.9 485.0 95.5 484.8 94.9C484.5 94.3 484.2 93.4 484.4 92.6C484.6 91.8 485.2 90.4 485.8 90.1C486.4 89.9 487.5 90.6 488.2 91.2C488.8 91.9 489.6 93.0 489.6 93.9Z" fill="#7c7c7c"/>
<path d="M437.8 126.9C437.7 127.6 436.8 128.3 436.1 128.7C435.4 129.2 434.6 129.8 433.7 129.7C432.8 129.7 431.3 129.1 430.8 128.4C430.3 127.7 430.3 126.3 430.8 125.4C431.2 124.6 432.5 123.7 433.5 123.6C434.5 123.4 435.9 124.0 436.7 124.6C437.4 125.1 437.9 126.3 437.8 126.9Z" fill="#7c7c7c"/>
<path d="M494.2 129.3C494.1 129.8 492.9 130.2 492.1 130.6C491.3 131.0 490.3 131.7 489.4 131.7C488.4 131.7 486.9 130.9 486.5 130.3C486.1 129.8 486.7 129.0 487.2 128.5C487.7 127.9 488.6 127.4 489.5 127.3C490.4 127.1 492.0 127.2 492.8 127.6C493.6 127.9 494.3 128.8 494.2 129.3Z" fill="#7c7c7c"/>
<path d="M503.7 119.6C503.7 120.4 503.2 121.6 502.5 122.1C501.8 122.6 500.3 122.7 499.4 122.5C498.5 122.3 497.4 121.6 497.0 120.9C496.5 120.2 496.3 118.9 496.7 118.2C497.1 117.5 498.5 117.0 499.4 116.8C500.4 116.7 501.7 116.7 502.4 117.2C503.1 117.6 503.7 118.8 503.7 119.6Z" fill="#7c7c7c"/>
<path d="M439.5 140.6C439.3 141.5 439.0 142.2 438.5 142.5C438.1 142.9 437.5 142.7 436.7 142.7C436.0 142.6 434.4 142.8 434.1 142.3C433.9 141.7 434.7 140.2 435.1 139.6C435.5 138.9 435.9 138.5 436.7 138.2C437.4 137.9 438.9 137.2 439.4 137.6C439.8 138.0 439.6 139.8 439.5 140.6Z" fill="#7c7c7c"/>
<path d="M480.1 122.0C480.1 122.9 479.6 124.0 479.1 124.4C478.6 124.9 477.7 125.0 477.1 124.8C476.4 124.7 475.4 124.2 475.1 123.5C474.9 122.8 475.2 121.4 475.6 120.8C475.9 120.2 476.6 120.1 477.2 119.8C477.8 119.6 478.8 118.9 479.3 119.3C479.8 119.6 480.2 121.2 480.1 122.0Z" fill="#7c7c7c"/>
<path d="M446.4 139.8C446.4 140.7 446.6 142.1 446.1 142.7C445.5 143.3 443.9 143.6 443.0 143.4C442.1 143.2 440.7 142.2 440.4 141.4C440.1 140.6 440.7 139.2 441.2 138.5C441.6 137.7 442.3 137.2 443.2 136.9C444.0 136.7 445.6 136.3 446.1 136.8C446.6 137.3 446.4 138.8 446.4 139.8Z" fill="#7c7c7c"/>
<path d="M429.5 139.6C429.5 140.1 429.3 141.3 429.0 141.5C428.7 141.8 427.9 141.4 427.5 141.2C427.1 141.0 426.8 140.7 426.6 140.4C426.5 140.0 426.6 139.5 426.7 138.9C426.8 138.3 427.0 136.7 427.3 136.6C427.6 136.5 428.2 137.8 428.6 138.3C429.0 138.8 429.4 139.1 429.5 139.6Z" fill="#7c7c7c"/>
<path d="M480.2 145.7C480.2 146.2 479.3 146.8 478.6 147.1C477.8 147.5 476.4 147.9 475.7 147.8C475.1 147.7 474.9 146.8 474.5 146.3C474.1 145.8 473.0 145.2 473.2 144.8C473.4 144.3 474.9 143.6 475.7 143.6C476.6 143.5 477.6 144.1 478.3 144.5C479.1 144.8 480.1 145.3 480.2 145.7Z" fill="#7c7c7c"/>
<path d="M500.4 114.6C500.5 115.2 500.3 115.9 499.8 116.3C499.3 116.7 498.0 116.9 497.3 116.8C496.5 116.6 495.6 115.9 495.4 115.5C495.3 115.1 496.2 114.5 496.5 114.1C496.9 113.8 497.0 113.5 497.5 113.4C498.1 113.2 499.1 112.9 499.6 113.1C500.1 113.3 500.4 114.1 500.4 114.6Z" fill="#7c7c7c"/>
<path d="M465.9 87.7C465.9 88.2 464.8 88.6 464.3 89.1C463.8 89.6 463.2 90.6 462.8 90.5C462.5 90.4 462.2 89.1 462.1 88.5C461.9 87.9 461.8 87.5 461.9 86.9C462.1 86.2 462.4 84.7 462.8 84.6C463.2 84.5 463.9 85.7 464.4 86.2C464.9 86.7 466.0 87.2 465.9 87.7Z" fill="#7c7c7c"/>
<path d="M488.3 100.7C488.5 101.2 488.9 102.5 488.4 102.8C488.0 103.0 486.3 102.5 485.6 102.3C484.8 102.0 484.3 101.7 484.1 101.4C483.8 101.0 483.9 100.5 484.1 100.0C484.4 99.6 484.9 98.8 485.4 98.8C486.0 98.7 486.9 99.3 487.3 99.6C487.8 99.9 488.1 100.2 488.3 100.7Z" fill="#7c7c7c"/>
<path d="M432.8 146.1C432.7 146.7 431.1 146.9 430.4 147.3C429.6 147.8 428.8 149.0 428.2 149.0C427.6 148.9 427.1 147.6 426.7 147.0C426.4 146.3 425.9 145.6 426.2 145.1C426.4 144.6 427.6 144.1 428.4 144.0C429.2 143.8 430.4 143.9 431.1 144.2C431.9 144.6 432.9 145.6 432.8 146.1Z" fill="#7c7c7c"/>
<path d="M466.4 136.1C466.5 136.9 466.0 138.1 465.3 138.5C464.7 138.9 463.6 138.6 462.8 138.4C461.9 138.2 460.9 138.0 460.5 137.4C460.1 136.8 460.1 135.3 460.5 134.8C460.8 134.2 462.0 134.1 462.8 134.0C463.6 133.8 464.6 133.4 465.2 133.8C465.8 134.1 466.4 135.3 466.4 136.1Z" fill="#7c7c7c"/>
<path d="M489.7 103.3C489.7 103.6 489.6 104.2 489.3 104.6C489.0 104.9 488.3 105.5 487.9 105.4C487.5 105.3 487.0 104.5 486.8 104.0C486.6 103.6 486.7 103.0 486.9 102.5C487.1 102.1 487.6 101.4 487.9 101.3C488.2 101.3 488.6 102.1 488.9 102.4C489.2 102.7 489.6 102.9 489.7 103.3Z" fill="#7c7c7c"/>
<path d="M444.4 133.0C444.5 133.5 442.9 134.4 442.0 134.7C441.1 135.0 440.0 135.1 439.1 135.0C438.2 134.8 437.2 134.3 436.8 133.9C436.5 133.4 436.8 132.6 437.2 132.2C437.5 131.8 438.5 131.3 439.2 131.3C439.9 131.2 440.3 131.6 441.2 131.9C442.1 132.2 444.3 132.5 444.4 133.0Z" fill="#7c7c7c"/>
<path d="M450.8 131.2C450.9 131.8 449.7 133.0 448.9 133.4C448.0 133.8 446.3 134.0 445.5 133.8C444.6 133.6 443.9 132.7 443.5 132.1C443.1 131.5 442.7 130.5 443.1 130.1C443.5 129.7 445.0 129.6 445.8 129.6C446.6 129.5 447.0 129.6 447.8 129.8C448.7 130.1 450.6 130.6 450.8 131.2Z" fill="#7c7c7c"/>
<path d="M441.1 146.8C441.0 147.6 441.2 148.4 440.7 148.8C440.1 149.3 438.8 149.4 437.8 149.3C436.8 149.2 435.3 148.9 434.7 148.2C434.1 147.5 433.8 145.9 434.3 145.2C434.8 144.5 436.5 144.1 437.7 143.9C438.9 143.7 440.9 143.5 441.4 143.9C442.0 144.4 441.2 146.0 441.1 146.8Z" fill="#7c7c7c"/>
<path d="M452.5 101.1C452.6 101.5 451.5 102.1 450.9 102.4C450.3 102.7 449.3 103.1 448.8 103.0C448.2 102.8 448.1 102.0 447.9 101.6C447.6 101.1 447.1 100.7 447.3 100.4C447.4 100.0 448.2 99.4 448.8 99.3C449.4 99.3 450.1 99.6 450.7 99.9C451.3 100.2 452.5 100.7 452.5 101.1Z" fill="#7c7c7c"/>
<path d="M424.3 122.5C424.3 123.0 423.2 123.3 422.6 123.8C421.9 124.4 421.2 125.6 420.3 125.6C419.5 125.7 418.1 124.7 417.6 123.9C417.1 123.1 416.9 121.7 417.4 121.0C417.8 120.3 419.6 119.8 420.5 119.8C421.4 119.8 422.1 120.6 422.7 121.0C423.4 121.5 424.4 122.1 424.3 122.5Z" fill="#7c7c7c"/>
<path d="M453.7 162.2C453.8 162.7 453.3 163.6 452.8 163.9C452.3 164.3 451.5 164.6 450.9 164.4C450.4 164.3 449.8 163.7 449.5 163.2C449.3 162.6 449.3 161.8 449.5 161.3C449.8 160.8 450.5 160.2 451.0 160.2C451.5 160.1 452.0 160.6 452.5 160.9C452.9 161.3 453.7 161.7 453.7 162.2Z" fill="#7c7c7c"/>
<path d="M439.0 132.4C439.1 133.0 439.4 134.1 438.8 134.4C438.2 134.7 436.6 134.3 435.6 134.1C434.7 133.9 433.5 133.8 433.1 133.3C432.7 132.9 432.6 131.9 433.0 131.4C433.4 130.9 434.6 130.3 435.5 130.2C436.3 130.1 437.7 130.4 438.3 130.8C438.9 131.1 438.9 131.8 439.0 132.4Z" fill="#7c7c7c"/>
<path d="M496.6 160.9C496.8 161.6 496.9 163.3 496.4 163.8C495.9 164.2 494.4 164.1 493.8 163.8C493.2 163.4 493.0 162.3 492.8 161.7C492.7 161.1 492.7 160.6 492.9 160.0C493.1 159.5 493.5 158.7 493.9 158.6C494.4 158.5 495.1 158.8 495.6 159.2C496.0 159.5 496.5 160.1 496.6 160.9Z" fill="#7c7c7c"/>
<path d="M502.7 124.9C502.7 125.2 502.4 125.7 502.0 126.0C501.6 126.3 501.0 126.6 500.5 126.5C500.1 126.4 499.5 125.9 499.4 125.5C499.2 125.1 499.2 124.6 499.4 124.2C499.6 123.8 500.1 123.4 500.6 123.3C501.0 123.2 501.6 123.5 501.9 123.8C502.3 124.1 502.7 124.5 502.7 124.9Z" fill="#7c7c7c"/>
<path d="M434.5 123.6C434.5 124.0 433.7 124.2 433.3 124.6C432.9 125.0 432.6 125.8 432.3 125.8C432.0 125.7 431.5 125.0 431.3 124.5C431.0 123.9 430.8 122.9 431.0 122.5C431.2 122.1 431.9 121.9 432.4 121.8C432.8 121.8 433.2 121.8 433.6 122.1C434.0 122.3 434.6 123.1 434.5 123.6Z" fill="#7c7c7c"/>
<path d="M462.5 113.9C462.4 114.5 461.8 115.1 461.1 115.5C460.5 116.0 459.4 116.8 458.6 116.7C457.8 116.6 456.9 115.7 456.5 115.0C456.0 114.3 455.5 113.0 455.9 112.5C456.3 112.0 457.9 112.2 458.9 112.0C459.9 111.8 461.2 111.2 461.8 111.5C462.4 111.9 462.6 113.2 462.5 113.9Z" fill="#7c7c7c"/>
<path d="M466.0 137.1C465.9 137.6 465.4 138.1 464.9 138.5C464.4 138.9 463.4 139.5 462.9 139.4C462.3 139.3 461.9 138.4 461.6 137.9C461.2 137.3 460.5 136.6 460.8 136.1C461.0 135.6 462.1 134.8 462.8 134.8C463.5 134.7 464.5 135.3 465.0 135.7C465.5 136.1 466.0 136.7 466.0 137.1Z" fill="#7c7c7c"/>
<path d="M426.0 133.6C426.1 134.0 426.3 134.6 426.0 134.9C425.8 135.2 424.9 135.6 424.5 135.4C424.2 135.3 424.2 134.5 424.0 134.1C423.7 133.6 422.9 133.0 423.0 132.7C423.1 132.3 424.1 132.0 424.6 132.0C425.0 132.0 425.4 132.4 425.7 132.7C425.9 133.0 426.0 133.2 426.0 133.6Z" fill="#7c7c7c"/>
<path d="M446.5 105.6C446.5 106.0 445.9 106.6 445.3 106.9C444.7 107.1 443.5 107.3 442.9 107.1C442.3 107.0 442.1 106.5 441.6 106.1C441.2 105.7 440.0 105.0 440.3 104.7C440.5 104.4 442.1 104.3 442.9 104.2C443.8 104.1 444.8 104.0 445.4 104.2C446.0 104.4 446.5 105.1 446.5 105.6Z" fill="#7c7c7c"/>
<path d="M455.7 142.0C455.6 142.7 455.1 143.1 454.7 143.5C454.3 144.0 453.6 144.7 453.1 144.7C452.6 144.6 451.7 143.8 451.5 143.2C451.4 142.6 452.0 142.0 452.3 141.2C452.5 140.5 452.5 139.0 453.0 138.7C453.5 138.4 455.0 138.8 455.4 139.4C455.9 139.9 455.8 141.3 455.7 142.0Z" fill="#7c7c7c"/>
<path d="M422.1 101.0C422.0 101.5 421.2 101.7 420.7 102.2C420.2 102.6 419.7 103.7 419.2 103.6C418.8 103.6 418.2 102.4 418.1 101.9C417.9 101.3 418.2 100.8 418.4 100.4C418.7 100.0 419.0 99.6 419.4 99.4C419.9 99.2 420.7 99.1 421.2 99.3C421.6 99.6 422.2 100.6 422.1 101.0Z" fill="#7c7c7c"/>
<path d="M468.1 103.1C468.2 103.7 468.4 104.8 468.0 105.2C467.6 105.6 466.6 105.6 465.8 105.5C465.0 105.4 463.6 105.1 463.3 104.5C462.9 103.9 463.3 102.5 463.7 101.9C464.1 101.3 465.2 101.1 465.9 101.1C466.5 101.0 467.1 101.4 467.5 101.7C467.9 102.0 468.0 102.5 468.1 103.1Z" fill="#7c7c7c"/>
<path d="M477.4 151.3C477.5 152.1 477.7 153.5 477.4 153.9C477.2 154.3 476.2 154.2 475.7 153.9C475.2 153.7 474.8 153.1 474.6 152.4C474.4 151.8 474.2 150.7 474.4 150.1C474.6 149.5 475.3 148.8 475.7 148.7C476.1 148.6 476.7 149.2 477.0 149.7C477.3 150.1 477.3 150.6 477.4 151.3Z" fill="#7c7c7c"/>
<path d="M485.4 152.1C485.4 152.7 485.5 153.6 485.2 153.8C484.8 154.0 483.8 153.6 483.4 153.3C482.9 153.1 482.9 152.9 482.6 152.6C482.3 152.2 481.6 151.6 481.7 151.3C481.8 150.9 482.7 150.5 483.2 150.4C483.8 150.3 484.7 150.3 485.0 150.6C485.4 150.9 485.4 151.6 485.4 152.1Z" fill="#7c7c7c"/>
<path d="M488.9 138.2C489.0 138.8 488.8 140.0 488.5 140.4C488.1 140.9 487.3 141.0 486.9 140.8C486.4 140.6 486.0 139.9 485.8 139.3C485.6 138.6 485.6 137.6 485.8 137.1C486.0 136.5 486.6 136.0 487.0 135.9C487.3 135.9 487.7 136.4 488.0 136.7C488.4 137.1 488.8 137.6 488.9 138.2Z" fill="#7c7c7c"/>
<path d="M486.4 135.7C486.4 136.5 485.9 137.5 485.2 138.0C484.4 138.5 482.9 139.0 482.0 138.8C481.0 138.7 479.7 137.7 479.4 137.0C479.1 136.3 479.8 135.3 480.3 134.7C480.7 134.1 481.3 133.4 482.1 133.2C482.9 133.0 484.4 133.0 485.1 133.4C485.8 133.9 486.4 134.9 486.4 135.7Z" fill="#7c7c7c"/>
<path d="M445.6 91.7C445.6 92.5 445.2 93.5 444.8 93.9C444.3 94.3 443.3 94.4 442.7 94.2C442.2 94.0 441.5 93.4 441.3 92.8C441.0 92.2 441.3 91.5 441.5 90.8C441.8 90.1 442.1 88.9 442.6 88.7C443.2 88.5 444.4 89.0 444.9 89.5C445.3 90.0 445.6 91.0 445.6 91.7Z" fill="#7c7c7c"/>
<path d="M429.4 101.6C429.3 102.3 428.7 103.1 428.3 103.4C427.9 103.7 427.4 103.7 426.9 103.5C426.5 103.4 425.9 103.1 425.7 102.6C425.5 102.2 425.7 101.4 425.9 100.8C426.1 100.2 426.4 99.4 426.8 99.1C427.3 98.9 428.3 98.9 428.7 99.3C429.1 99.7 429.4 101.0 429.4 101.6Z" fill="#7c7c7c"/>
<path d="M511.1 144.7C511.1 145.3 510.5 146.0 510.1 146.4C509.7 146.8 509.1 147.1 508.7 147.0C508.3 146.9 507.9 146.1 507.8 145.6C507.7 145.1 507.8 144.5 508.0 144.0C508.2 143.6 508.4 143.1 508.8 142.9C509.1 142.7 509.7 142.7 510.1 143.0C510.5 143.3 511.1 144.2 511.1 144.7Z" fill="#7c7c7c"/>
<path d="M481.6 95.2C481.6 95.7 481.6 96.3 481.0 96.6C480.5 96.8 479.2 96.9 478.6 96.8C477.9 96.7 477.6 96.2 477.2 95.8C476.8 95.4 476.0 94.6 476.3 94.3C476.6 94.0 477.9 94.1 478.7 94.0C479.6 93.8 480.8 93.4 481.3 93.6C481.8 93.8 481.7 94.7 481.6 95.2Z" fill="#7c7c7c"/>
<path d="M458.0 149.6C457.9 150.1 457.0 150.7 456.2 150.9C455.5 151.1 454.4 151.1 453.5 151.0C452.6 150.9 451.1 150.8 450.6 150.4C450.1 150.1 450.1 149.2 450.5 148.7C451.0 148.3 452.3 147.9 453.3 147.8C454.3 147.7 455.8 147.8 456.6 148.1C457.4 148.4 458.0 149.1 458.0 149.6Z" fill="#7c7c7c"/>
<path d="M495.5 156.1C495.7 156.8 496.4 158.2 495.9 158.7C495.4 159.2 493.5 159.3 492.6 159.1C491.6 158.9 490.8 158.1 490.3 157.3C489.8 156.5 489.2 155.1 489.6 154.5C490.0 154.0 491.9 154.1 492.8 154.0C493.8 154.0 494.6 154.0 495.1 154.3C495.5 154.6 495.4 155.3 495.5 156.1Z" fill="#7c7c7c"/>
<g filter="url(#dsp)">
<path d="M418.9 108.5C419.0 110.4 420.6 112.7 420.3 114.2C420.0 115.7 418.3 117.4 417.2 117.7C416.2 117.9 414.9 116.3 413.8 115.8C412.7 115.4 411.5 115.9 410.8 115.1C410.0 114.2 409.6 112.4 409.2 110.9C408.8 109.3 408.4 107.5 408.5 105.8C408.7 104.1 409.2 101.4 410.1 100.8C411.0 100.1 412.9 101.6 413.9 102.0C414.9 102.3 415.1 102.7 416.2 102.8C417.3 103.0 419.8 101.9 420.3 102.8C420.7 103.8 418.9 106.6 418.9 108.5Z" fill="none" stroke="#d6d6d6" stroke-width="3"/>
<path d="M436.4 130.0C436.6 132.3 436.2 136.4 435.2 137.7C434.2 138.9 431.8 137.4 430.6 137.5C429.5 137.6 429.3 137.9 428.2 138.3C427.1 138.8 425.1 141.0 424.1 140.2C423.1 139.4 422.5 135.9 422.2 133.6C422.0 131.3 421.9 128.4 422.5 126.5C423.0 124.7 424.4 123.9 425.3 122.5C426.2 121.1 426.9 118.8 427.9 118.2C428.9 117.7 430.4 118.3 431.5 119.2C432.5 120.1 433.3 121.8 434.1 123.6C434.9 125.5 436.3 127.7 436.4 130.0Z" fill="none" stroke="#d6d6d6" stroke-width="3"/>
<path d="M449.9 121.7C449.6 123.2 450.6 124.7 450.0 125.8C449.4 126.8 447.7 127.2 446.5 127.8C445.3 128.4 443.9 129.4 442.6 129.4C441.3 129.3 439.2 128.7 438.6 127.6C437.9 126.6 438.5 124.5 438.5 123.2C438.6 122.0 438.8 121.6 438.7 120.2C438.6 118.9 437.3 115.9 438.0 115.1C438.6 114.3 441.4 115.3 442.8 115.5C444.2 115.7 444.8 115.9 446.2 116.1C447.7 116.3 451.1 115.6 451.7 116.6C452.3 117.5 450.1 120.2 449.9 121.7Z" fill="none" stroke="#d6d6d6" stroke-width="3"/>
<path d="M453.9 101.2C453.7 102.4 453.0 103.2 452.5 104.2C451.9 105.3 451.6 107.1 450.6 107.5C449.7 108.0 448.0 107.4 447.0 107.0C445.9 106.6 445.2 106.0 444.3 105.3C443.3 104.7 442.1 104.3 441.2 103.2C440.3 102.0 438.9 100.0 439.0 98.6C439.2 97.2 440.9 95.6 442.2 94.6C443.4 93.6 445.2 92.5 446.6 92.7C448.0 92.9 449.1 94.9 450.3 95.6C451.6 96.3 453.5 96.2 454.1 97.1C454.7 98.0 454.2 100.0 453.9 101.2Z" fill="none" stroke="#d6d6d6" stroke-width="3"/>
<path d="M461.7 136.0C461.6 137.5 461.6 139.2 460.9 140.5C460.2 141.7 458.9 142.9 457.5 143.7C456.1 144.5 454.1 145.3 452.6 145.0C451.1 144.8 449.7 143.3 448.4 142.2C447.2 141.1 445.0 139.8 445.1 138.5C445.2 137.3 448.2 135.9 448.9 134.5C449.6 133.2 448.6 131.9 449.2 130.7C449.8 129.4 451.3 127.3 452.6 127.0C453.9 126.7 455.7 128.2 457.2 128.9C458.7 129.6 460.8 130.0 461.5 131.2C462.3 132.4 461.8 134.5 461.7 136.0Z" fill="none" stroke="#d6d6d6" stroke-width="3"/>
<path d="M479.0 138.0C479.4 139.3 478.6 141.6 477.5 142.6C476.5 143.7 474.1 144.2 472.6 144.5C471.0 144.7 469.3 144.6 468.1 144.1C466.9 143.7 466.6 142.5 465.2 141.8C463.9 141.2 460.9 141.2 460.3 140.2C459.6 139.3 460.8 137.4 461.2 136.0C461.6 134.6 461.6 132.5 462.7 131.7C463.9 130.9 466.3 131.6 468.0 131.4C469.7 131.2 472.0 129.9 473.2 130.4C474.4 130.9 474.2 133.4 475.2 134.6C476.2 135.9 478.6 136.7 479.0 138.0Z" fill="none" stroke="#d6d6d6" stroke-width="3"/>
<path d="M485.0 142.0C485.1 143.0 484.1 143.9 483.6 145.1C483.1 146.3 483.1 148.8 482.3 149.1C481.4 149.5 479.9 147.6 478.7 147.3C477.6 147.0 476.0 148.1 475.2 147.6C474.4 147.0 473.9 145.0 473.8 143.9C473.8 142.7 474.7 141.7 475.0 140.5C475.2 139.3 474.6 137.1 475.3 136.5C475.9 135.9 477.6 137.0 478.8 136.9C479.9 136.7 481.1 135.3 481.9 135.7C482.7 136.1 482.8 138.1 483.3 139.1C483.9 140.2 485.0 141.0 485.0 142.0Z" fill="none" stroke="#d6d6d6" stroke-width="3"/>
<path d="M480.0 99.0C480.3 100.5 482.4 103.1 481.7 104.0C481.1 104.8 477.8 103.6 476.3 104.1C474.8 104.6 473.8 107.2 472.8 107.0C471.9 106.8 471.2 104.1 470.5 103.1C469.7 102.0 469.0 101.8 468.1 100.7C467.2 99.6 464.7 97.4 465.0 96.4C465.4 95.3 468.8 95.4 470.1 94.5C471.4 93.7 471.8 91.6 472.9 91.3C474.0 91.0 475.8 92.0 476.9 92.6C478.1 93.3 479.4 94.2 479.9 95.2C480.4 96.3 479.7 97.5 480.0 99.0Z" fill="none" stroke="#d6d6d6" stroke-width="3"/>
<path d="M497.7 105.2C497.9 106.3 497.1 108.0 496.3 108.9C495.5 109.8 494.1 109.6 493.0 110.5C491.8 111.3 490.3 114.4 489.3 114.1C488.4 113.9 488.2 110.3 487.2 109.1C486.3 108.0 484.5 108.4 483.6 107.3C482.7 106.2 481.3 103.7 481.9 102.6C482.5 101.6 485.8 101.8 487.0 101.0C488.3 100.2 488.4 98.1 489.5 97.6C490.7 97.1 492.9 97.2 493.8 98.0C494.8 98.8 494.4 101.1 495.0 102.3C495.7 103.5 497.5 104.1 497.7 105.2Z" fill="none" stroke="#d6d6d6" stroke-width="3"/>
<path d="M510.6 128.8C510.7 130.2 509.3 131.8 508.4 133.1C507.4 134.4 506.3 136.3 504.9 136.7C503.4 137.1 501.6 135.6 499.7 135.6C497.8 135.5 495.1 136.9 493.5 136.3C491.9 135.6 490.5 133.3 490.0 131.6C489.6 129.9 490.0 127.5 491.0 126.2C491.9 124.9 494.5 124.8 495.9 123.8C497.3 122.8 498.0 120.8 499.4 120.5C500.8 120.2 503.0 121.3 504.3 122.0C505.6 122.8 506.5 123.9 507.5 125.0C508.6 126.1 510.5 127.4 510.6 128.8Z" fill="none" stroke="#d6d6d6" stroke-width="3"/>
<path d="M507.9 146.0C508.2 147.5 507.7 149.4 507.2 151.2C506.6 152.9 505.8 155.9 504.6 156.5C503.4 157.1 501.2 155.5 499.8 154.9C498.3 154.3 497.1 154.0 496.0 153.0C494.9 152.0 493.6 150.2 493.4 148.7C493.3 147.2 494.7 145.5 495.1 143.9C495.5 142.3 495.2 140.3 496.0 139.0C496.7 137.7 498.3 136.7 499.7 136.2C501.1 135.7 503.4 135.2 504.4 136.2C505.3 137.2 504.9 140.6 505.4 142.2C506.0 143.9 507.6 144.5 507.9 146.0Z" fill="none" stroke="#d6d6d6" stroke-width="3"/>
<path d="M416.1 151.2C416.2 153.2 416.2 155.6 415.8 157.4C415.3 159.1 414.3 161.3 413.4 161.6C412.5 161.9 411.2 160.1 410.4 159.3C409.6 158.5 409.3 157.6 408.6 156.8C407.9 155.9 406.7 155.3 406.4 153.9C406.1 152.6 406.6 150.7 406.7 148.7C406.8 146.7 406.4 143.4 407.0 141.9C407.5 140.4 409.1 139.8 410.2 139.7C411.2 139.6 412.4 140.2 413.3 141.2C414.2 142.1 415.1 143.7 415.5 145.4C416.0 147.1 416.1 149.2 416.1 151.2Z" fill="none" stroke="#d6d6d6" stroke-width="3"/>
<path d="M435.2 151.2C435.4 152.8 436.6 154.8 436.0 156.2C435.4 157.7 433.3 158.8 431.5 159.7C429.8 160.5 427.1 161.8 425.6 161.3C424.0 160.7 423.2 157.7 422.2 156.4C421.2 155.0 420.0 154.4 419.6 153.2C419.3 152.0 419.7 150.5 420.1 149.3C420.5 148.1 421.1 147.2 422.1 145.9C423.0 144.6 424.3 141.8 425.7 141.7C427.0 141.6 428.6 144.4 430.2 145.3C431.8 146.1 434.4 145.6 435.3 146.6C436.1 147.6 435.1 149.6 435.2 151.2Z" fill="none" stroke="#d6d6d6" stroke-width="3"/>
<path d="M447.0 157.3C447.2 159.2 449.0 161.9 448.5 163.7C448.1 165.4 446.0 166.6 444.4 167.7C442.8 168.9 440.5 171.0 439.1 170.4C437.7 169.8 436.7 165.9 435.9 164.1C435.0 162.4 434.5 161.5 433.7 159.8C433.0 158.1 431.3 155.8 431.4 153.9C431.6 152.1 433.2 149.6 434.6 148.6C435.9 147.6 437.9 148.5 439.5 148.1C441.2 147.8 443.2 146.1 444.5 146.7C445.8 147.3 446.8 150.2 447.2 152.0C447.7 153.7 446.8 155.4 447.0 157.3Z" fill="none" stroke="#d6d6d6" stroke-width="3"/>
<path d="M475.8 159.3C475.6 160.5 470.7 161.1 469.5 162.5C468.2 164.0 469.4 167.6 468.4 168.1C467.3 168.7 465.0 166.1 463.0 166.0C460.9 165.9 457.1 168.4 456.2 167.6C455.3 166.8 458.2 162.9 457.7 161.0C457.2 159.1 453.2 157.8 453.2 156.4C453.1 154.9 455.8 153.4 457.3 152.2C458.9 151.0 460.5 149.6 462.4 149.1C464.4 148.6 467.6 148.2 469.0 149.2C470.3 150.3 469.4 153.7 470.5 155.4C471.7 157.1 475.9 158.1 475.8 159.3Z" fill="none" stroke="#d6d6d6" stroke-width="3"/>
<path d="M493.1 154.2C493.2 155.5 493.1 157.1 492.3 158.2C491.5 159.2 489.7 160.1 488.2 160.6C486.7 161.1 484.8 161.5 483.2 161.3C481.6 161.1 480.1 160.3 478.7 159.5C477.2 158.7 474.9 157.7 474.6 156.5C474.3 155.3 476.2 153.8 476.8 152.4C477.3 151.0 476.7 148.7 477.8 148.2C479.0 147.6 481.9 149.0 483.6 149.0C485.2 149.0 486.6 148.0 487.9 148.3C489.3 148.5 490.8 149.6 491.6 150.6C492.5 151.6 493.0 152.9 493.1 154.2Z" fill="none" stroke="#d6d6d6" stroke-width="3"/>
<path d="M514.4 157.3C514.5 159.5 515.0 162.0 514.3 164.0C513.5 166.1 511.6 169.1 509.9 169.5C508.1 169.9 505.8 166.9 503.7 166.4C501.7 165.9 499.3 167.5 497.8 166.5C496.3 165.5 495.2 162.7 494.8 160.6C494.3 158.5 494.1 155.6 495.0 154.1C495.9 152.5 498.7 151.9 500.2 151.2C501.7 150.5 502.6 150.3 503.9 149.9C505.3 149.4 506.9 148.3 508.5 148.4C510.2 148.6 513.0 149.3 514.0 150.8C515.0 152.3 514.4 155.1 514.4 157.3Z" fill="none" stroke="#d6d6d6" stroke-width="3"/>
<path d="M427.2 96.5C427.2 97.6 428.2 99.1 427.8 99.9C427.4 100.7 425.8 101.0 424.9 101.2C424.0 101.4 423.3 101.2 422.4 101.1C421.5 101.1 420.3 101.3 419.6 100.8C418.9 100.3 418.3 99.1 418.0 98.1C417.8 97.1 417.8 95.9 418.1 94.9C418.3 93.9 419.0 92.8 419.7 92.3C420.4 91.8 421.5 91.7 422.4 91.7C423.2 91.6 423.9 91.8 424.8 92.1C425.8 92.3 427.5 92.3 427.9 93.1C428.3 93.8 427.2 95.4 427.2 96.5Z" fill="none" stroke="#d6d6d6" stroke-width="3"/>
<path d="M443.6 95.0C443.8 96.0 443.5 97.5 442.8 98.3C442.1 99.1 440.4 99.5 439.2 99.8C438.1 100.1 436.8 100.4 435.7 100.2C434.6 100.0 433.9 99.2 432.7 98.7C431.6 98.1 429.0 97.7 428.8 96.9C428.5 96.1 430.6 94.6 431.3 93.7C432.1 92.9 432.6 92.4 433.3 91.9C434.1 91.4 434.9 90.7 435.8 90.6C436.7 90.4 437.9 90.6 438.8 90.9C439.8 91.3 440.6 91.8 441.4 92.5C442.1 93.2 443.3 94.0 443.6 95.0Z" fill="none" stroke="#d6d6d6" stroke-width="3"/>
<path d="M469.0 115.5C469.1 116.5 467.7 117.7 466.7 118.6C465.8 119.5 464.8 120.4 463.4 121.0C462.1 121.5 459.9 122.3 458.6 121.9C457.3 121.5 456.9 119.7 455.8 118.9C454.8 118.1 453.1 117.9 452.3 117.1C451.6 116.2 450.9 114.7 451.2 113.7C451.5 112.6 452.8 111.3 454.1 110.7C455.3 110.1 457.4 110.0 458.8 110.1C460.2 110.3 461.2 111.3 462.3 111.7C463.5 112.2 464.6 112.2 465.7 112.8C466.8 113.5 468.8 114.5 469.0 115.5Z" fill="none" stroke="#d6d6d6" stroke-width="3"/>
<path d="M488.0 120.7C488.5 122.1 489.7 124.3 489.2 125.7C488.7 127.1 486.6 128.3 485.1 128.9C483.6 129.4 481.6 129.3 480.2 128.8C478.9 128.3 478.3 126.8 476.9 125.9C475.5 125.0 472.9 124.8 472.0 123.4C471.2 122.1 471.3 119.4 472.0 117.9C472.6 116.4 474.5 115.3 475.9 114.4C477.3 113.5 478.8 112.5 480.2 112.5C481.6 112.5 483.3 113.5 484.3 114.3C485.3 115.2 485.7 116.5 486.3 117.6C486.9 118.6 487.6 119.3 488.0 120.7Z" fill="none" stroke="#d6d6d6" stroke-width="3"/>
<path d="M475.2 104.2C474.7 105.4 471.9 106.2 470.8 106.9C469.6 107.6 469.1 107.4 468.1 108.4C467.1 109.3 465.7 112.5 464.7 112.4C463.7 112.4 462.8 109.3 462.2 108.1C461.5 107.0 461.3 106.6 460.7 105.6C460.0 104.6 458.3 103.2 458.5 102.2C458.6 101.3 460.7 100.8 461.7 99.8C462.8 98.8 463.6 96.5 464.7 96.4C465.9 96.3 467.0 98.7 468.5 99.3C470.0 99.9 472.6 99.0 473.7 99.8C474.8 100.6 475.7 103.0 475.2 104.2Z" fill="none" stroke="#d6d6d6" stroke-width="3"/>
<path d="M424.8 126.0C425.2 127.4 424.4 129.6 423.6 130.9C422.9 132.3 421.4 134.0 420.2 134.1C419.0 134.2 417.6 131.7 416.3 131.3C415.1 131.0 413.6 132.3 412.7 131.7C411.9 131.2 411.6 129.2 411.3 127.9C411.0 126.6 410.5 125.0 410.9 123.9C411.4 122.9 413.0 122.4 413.8 121.8C414.7 121.1 415.3 120.5 416.3 120.2C417.2 119.8 418.6 119.2 419.5 119.7C420.3 120.1 420.5 121.7 421.3 122.8C422.2 123.8 424.4 124.6 424.8 126.0Z" fill="none" stroke="#d6d6d6" stroke-width="3"/>
<path d="M418.9 108.5C419.0 110.4 420.6 112.7 420.3 114.2C420.0 115.7 418.3 117.4 417.2 117.7C416.2 117.9 414.9 116.3 413.8 115.8C412.7 115.4 411.5 115.9 410.8 115.1C410.0 114.2 409.6 112.4 409.2 110.9C408.8 109.3 408.4 107.5 408.5 105.8C408.7 104.1 409.2 101.4 410.1 100.8C411.0 100.1 412.9 101.6 413.9 102.0C414.9 102.3 415.1 102.7 416.2 102.8C417.3 103.0 419.8 101.9 420.3 102.8C420.7 103.8 418.9 106.6 418.9 108.5Z" fill="#727272" stroke="#3c3c3c" stroke-width="1"/>
<path d="M436.4 130.0C436.6 132.3 436.2 136.4 435.2 137.7C434.2 138.9 431.8 137.4 430.6 137.5C429.5 137.6 429.3 137.9 428.2 138.3C427.1 138.8 425.1 141.0 424.1 140.2C423.1 139.4 422.5 135.9 422.2 133.6C422.0 131.3 421.9 128.4 422.5 126.5C423.0 124.7 424.4 123.9 425.3 122.5C426.2 121.1 426.9 118.8 427.9 118.2C428.9 117.7 430.4 118.3 431.5 119.2C432.5 120.1 433.3 121.8 434.1 123.6C434.9 125.5 436.3 127.7 436.4 130.0Z" fill="#727272" stroke="#3c3c3c" stroke-width="1"/>
<path d="M449.9 121.7C449.6 123.2 450.6 124.7 450.0 125.8C449.4 126.8 447.7 127.2 446.5 127.8C445.3 128.4 443.9 129.4 442.6 129.4C441.3 129.3 439.2 128.7 438.6 127.6C437.9 126.6 438.5 124.5 438.5 123.2C438.6 122.0 438.8 121.6 438.7 120.2C438.6 118.9 437.3 115.9 438.0 115.1C438.6 114.3 441.4 115.3 442.8 115.5C444.2 115.7 444.8 115.9 446.2 116.1C447.7 116.3 451.1 115.6 451.7 116.6C452.3 117.5 450.1 120.2 449.9 121.7Z" fill="#727272" stroke="#3c3c3c" stroke-width="1"/>
<path d="M453.9 101.2C453.7 102.4 453.0 103.2 452.5 104.2C451.9 105.3 451.6 107.1 450.6 107.5C449.7 108.0 448.0 107.4 447.0 107.0C445.9 106.6 445.2 106.0 444.3 105.3C443.3 104.7 442.1 104.3 441.2 103.2C440.3 102.0 438.9 100.0 439.0 98.6C439.2 97.2 440.9 95.6 442.2 94.6C443.4 93.6 445.2 92.5 446.6 92.7C448.0 92.9 449.1 94.9 450.3 95.6C451.6 96.3 453.5 96.2 454.1 97.1C454.7 98.0 454.2 100.0 453.9 101.2Z" fill="#727272" stroke="#3c3c3c" stroke-width="1"/>
<path d="M461.7 136.0C461.6 137.5 461.6 139.2 460.9 140.5C460.2 141.7 458.9 142.9 457.5 143.7C456.1 144.5 454.1 145.3 452.6 145.0C451.1 144.8 449.7 143.3 448.4 142.2C447.2 141.1 445.0 139.8 445.1 138.5C445.2 137.3 448.2 135.9 448.9 134.5C449.6 133.2 448.6 131.9 449.2 130.7C449.8 129.4 451.3 127.3 452.6 127.0C453.9 126.7 455.7 128.2 457.2 128.9C458.7 129.6 460.8 130.0 461.5 131.2C462.3 132.4 461.8 134.5 461.7 136.0Z" fill="#727272" stroke="#3c3c3c" stroke-width="1"/>
<path d="M479.0 138.0C479.4 139.3 478.6 141.6 477.5 142.6C476.5 143.7 474.1 144.2 472.6 144.5C471.0 144.7 469.3 144.6 468.1 144.1C466.9 143.7 466.6 142.5 465.2 141.8C463.9 141.2 460.9 141.2 460.3 140.2C459.6 139.3 460.8 137.4 461.2 136.0C461.6 134.6 461.6 132.5 462.7 131.7C463.9 130.9 466.3 131.6 468.0 131.4C469.7 131.2 472.0 129.9 473.2 130.4C474.4 130.9 474.2 133.4 475.2 134.6C476.2 135.9 478.6 136.7 479.0 138.0Z" fill="#727272" stroke="#3c3c3c" stroke-width="1"/>
<path d="M485.0 142.0C485.1 143.0 484.1 143.9 483.6 145.1C483.1 146.3 483.1 148.8 482.3 149.1C481.4 149.5 479.9 147.6 478.7 147.3C477.6 147.0 476.0 148.1 475.2 147.6C474.4 147.0 473.9 145.0 473.8 143.9C473.8 142.7 474.7 141.7 475.0 140.5C475.2 139.3 474.6 137.1 475.3 136.5C475.9 135.9 477.6 137.0 478.8 136.9C479.9 136.7 481.1 135.3 481.9 135.7C482.7 136.1 482.8 138.1 483.3 139.1C483.9 140.2 485.0 141.0 485.0 142.0Z" fill="#727272" stroke="#3c3c3c" stroke-width="1"/>
<path d="M480.0 99.0C480.3 100.5 482.4 103.1 481.7 104.0C481.1 104.8 477.8 103.6 476.3 104.1C474.8 104.6 473.8 107.2 472.8 107.0C471.9 106.8 471.2 104.1 470.5 103.1C469.7 102.0 469.0 101.8 468.1 100.7C467.2 99.6 464.7 97.4 465.0 96.4C465.4 95.3 468.8 95.4 470.1 94.5C471.4 93.7 471.8 91.6 472.9 91.3C474.0 91.0 475.8 92.0 476.9 92.6C478.1 93.3 479.4 94.2 479.9 95.2C480.4 96.3 479.7 97.5 480.0 99.0Z" fill="#727272" stroke="#3c3c3c" stroke-width="1"/>
<path d="M497.7 105.2C497.9 106.3 497.1 108.0 496.3 108.9C495.5 109.8 494.1 109.6 493.0 110.5C491.8 111.3 490.3 114.4 489.3 114.1C488.4 113.9 488.2 110.3 487.2 109.1C486.3 108.0 484.5 108.4 483.6 107.3C482.7 106.2 481.3 103.7 481.9 102.6C482.5 101.6 485.8 101.8 487.0 101.0C488.3 100.2 488.4 98.1 489.5 97.6C490.7 97.1 492.9 97.2 493.8 98.0C494.8 98.8 494.4 101.1 495.0 102.3C495.7 103.5 497.5 104.1 497.7 105.2Z" fill="#727272" stroke="#3c3c3c" stroke-width="1"/>
<path d="M510.6 128.8C510.7 130.2 509.3 131.8 508.4 133.1C507.4 134.4 506.3 136.3 504.9 136.7C503.4 137.1 501.6 135.6 499.7 135.6C497.8 135.5 495.1 136.9 493.5 136.3C491.9 135.6 490.5 133.3 490.0 131.6C489.6 129.9 490.0 127.5 491.0 126.2C491.9 124.9 494.5 124.8 495.9 123.8C497.3 122.8 498.0 120.8 499.4 120.5C500.8 120.2 503.0 121.3 504.3 122.0C505.6 122.8 506.5 123.9 507.5 125.0C508.6 126.1 510.5 127.4 510.6 128.8Z" fill="#727272" stroke="#3c3c3c" stroke-width="1"/>
<path d="M507.9 146.0C508.2 147.5 507.7 149.4 507.2 151.2C506.6 152.9 505.8 155.9 504.6 156.5C503.4 157.1 501.2 155.5 499.8 154.9C498.3 154.3 497.1 154.0 496.0 153.0C494.9 152.0 493.6 150.2 493.4 148.7C493.3 147.2 494.7 145.5 495.1 143.9C495.5 142.3 495.2 140.3 496.0 139.0C496.7 137.7 498.3 136.7 499.7 136.2C501.1 135.7 503.4 135.2 504.4 136.2C505.3 137.2 504.9 140.6 505.4 142.2C506.0 143.9 507.6 144.5 507.9 146.0Z" fill="#727272" stroke="#3c3c3c" stroke-width="1"/>
<path d="M416.1 151.2C416.2 153.2 416.2 155.6 415.8 157.4C415.3 159.1 414.3 161.3 413.4 161.6C412.5 161.9 411.2 160.1 410.4 159.3C409.6 158.5 409.3 157.6 408.6 156.8C407.9 155.9 406.7 155.3 406.4 153.9C406.1 152.6 406.6 150.7 406.7 148.7C406.8 146.7 406.4 143.4 407.0 141.9C407.5 140.4 409.1 139.8 410.2 139.7C411.2 139.6 412.4 140.2 413.3 141.2C414.2 142.1 415.1 143.7 415.5 145.4C416.0 147.1 416.1 149.2 416.1 151.2Z" fill="#727272" stroke="#3c3c3c" stroke-width="1"/>
<path d="M435.2 151.2C435.4 152.8 436.6 154.8 436.0 156.2C435.4 157.7 433.3 158.8 431.5 159.7C429.8 160.5 427.1 161.8 425.6 161.3C424.0 160.7 423.2 157.7 422.2 156.4C421.2 155.0 420.0 154.4 419.6 153.2C419.3 152.0 419.7 150.5 420.1 149.3C420.5 148.1 421.1 147.2 422.1 145.9C423.0 144.6 424.3 141.8 425.7 141.7C427.0 141.6 428.6 144.4 430.2 145.3C431.8 146.1 434.4 145.6 435.3 146.6C436.1 147.6 435.1 149.6 435.2 151.2Z" fill="#727272" stroke="#3c3c3c" stroke-width="1"/>
<path d="M447.0 157.3C447.2 159.2 449.0 161.9 448.5 163.7C448.1 165.4 446.0 166.6 444.4 167.7C442.8 168.9 440.5 171.0 439.1 170.4C437.7 169.8 436.7 165.9 435.9 164.1C435.0 162.4 434.5 161.5 433.7 159.8C433.0 158.1 431.3 155.8 431.4 153.9C431.6 152.1 433.2 149.6 434.6 148.6C435.9 147.6 437.9 148.5 439.5 148.1C441.2 147.8 443.2 146.1 444.5 146.7C445.8 147.3 446.8 150.2 447.2 152.0C447.7 153.7 446.8 155.4 447.0 157.3Z" fill="#727272" stroke="#3c3c3c" stroke-width="1"/>
<path d="M475.8 159.3C475.6 160.5 470.7 161.1 469.5 162.5C468.2 164.0 469.4 167.6 468.4 168.1C467.3 168.7 465.0 166.1 463.0 166.0C460.9 165.9 457.1 168.4 456.2 167.6C455.3 166.8 458.2 162.9 457.7 161.0C457.2 159.1 453.2 157.8 453.2 156.4C453.1 154.9 455.8 153.4 457.3 152.2C458.9 151.0 460.5 149.6 462.4 149.1C464.4 148.6 467.6 148.2 469.0 149.2C470.3 150.3 469.4 153.7 470.5 155.4C471.7 157.1 475.9 158.1 475.8 159.3Z" fill="#727272" stroke="#3c3c3c" stroke-width="1"/>
<path d="M493.1 154.2C493.2 155.5 493.1 157.1 492.3 158.2C491.5 159.2 489.7 160.1 488.2 160.6C486.7 161.1 484.8 161.5 483.2 161.3C481.6 161.1 480.1 160.3 478.7 159.5C477.2 158.7 474.9 157.7 474.6 156.5C474.3 155.3 476.2 153.8 476.8 152.4C477.3 151.0 476.7 148.7 477.8 148.2C479.0 147.6 481.9 149.0 483.6 149.0C485.2 149.0 486.6 148.0 487.9 148.3C489.3 148.5 490.8 149.6 491.6 150.6C492.5 151.6 493.0 152.9 493.1 154.2Z" fill="#727272" stroke="#3c3c3c" stroke-width="1"/>
<path d="M514.4 157.3C514.5 159.5 515.0 162.0 514.3 164.0C513.5 166.1 511.6 169.1 509.9 169.5C508.1 169.9 505.8 166.9 503.7 166.4C501.7 165.9 499.3 167.5 497.8 166.5C496.3 165.5 495.2 162.7 494.8 160.6C494.3 158.5 494.1 155.6 495.0 154.1C495.9 152.5 498.7 151.9 500.2 151.2C501.7 150.5 502.6 150.3 503.9 149.9C505.3 149.4 506.9 148.3 508.5 148.4C510.2 148.6 513.0 149.3 514.0 150.8C515.0 152.3 514.4 155.1 514.4 157.3Z" fill="#727272" stroke="#3c3c3c" stroke-width="1"/>
<path d="M427.2 96.5C427.2 97.6 428.2 99.1 427.8 99.9C427.4 100.7 425.8 101.0 424.9 101.2C424.0 101.4 423.3 101.2 422.4 101.1C421.5 101.1 420.3 101.3 419.6 100.8C418.9 100.3 418.3 99.1 418.0 98.1C417.8 97.1 417.8 95.9 418.1 94.9C418.3 93.9 419.0 92.8 419.7 92.3C420.4 91.8 421.5 91.7 422.4 91.7C423.2 91.6 423.9 91.8 424.8 92.1C425.8 92.3 427.5 92.3 427.9 93.1C428.3 93.8 427.2 95.4 427.2 96.5Z" fill="#727272" stroke="#3c3c3c" stroke-width="1"/>
<path d="M443.6 95.0C443.8 96.0 443.5 97.5 442.8 98.3C442.1 99.1 440.4 99.5 439.2 99.8C438.1 100.1 436.8 100.4 435.7 100.2C434.6 100.0 433.9 99.2 432.7 98.7C431.6 98.1 429.0 97.7 428.8 96.9C428.5 96.1 430.6 94.6 431.3 93.7C432.1 92.9 432.6 92.4 433.3 91.9C434.1 91.4 434.9 90.7 435.8 90.6C436.7 90.4 437.9 90.6 438.8 90.9C439.8 91.3 440.6 91.8 441.4 92.5C442.1 93.2 443.3 94.0 443.6 95.0Z" fill="#727272" stroke="#3c3c3c" stroke-width="1"/>
<path d="M469.0 115.5C469.1 116.5 467.7 117.7 466.7 118.6C465.8 119.5 464.8 120.4 463.4 121.0C462.1 121.5 459.9 122.3 458.6 121.9C457.3 121.5 456.9 119.7 455.8 118.9C454.8 118.1 453.1 117.9 452.3 117.1C451.6 116.2 450.9 114.7 451.2 113.7C451.5 112.6 452.8 111.3 454.1 110.7C455.3 110.1 457.4 110.0 458.8 110.1C460.2 110.3 461.2 111.3 462.3 111.7C463.5 112.2 464.6 112.2 465.7 112.8C466.8 113.5 468.8 114.5 469.0 115.5Z" fill="#727272" stroke="#3c3c3c" stroke-width="1"/>
<path d="M488.0 120.7C488.5 122.1 489.7 124.3 489.2 125.7C488.7 127.1 486.6 128.3 485.1 128.9C483.6 129.4 481.6 129.3 480.2 128.8C478.9 128.3 478.3 126.8 476.9 125.9C475.5 125.0 472.9 124.8 472.0 123.4C471.2 122.1 471.3 119.4 472.0 117.9C472.6 116.4 474.5 115.3 475.9 114.4C477.3 113.5 478.8 112.5 480.2 112.5C481.6 112.5 483.3 113.5 484.3 114.3C485.3 115.2 485.7 116.5 486.3 117.6C486.9 118.6 487.6 119.3 488.0 120.7Z" fill="#727272" stroke="#3c3c3c" stroke-width="1"/>
<path d="M475.2 104.2C474.7 105.4 471.9 106.2 470.8 106.9C469.6 107.6 469.1 107.4 468.1 108.4C467.1 109.3 465.7 112.5 464.7 112.4C463.7 112.4 462.8 109.3 462.2 108.1C461.5 107.0 461.3 106.6 460.7 105.6C460.0 104.6 458.3 103.2 458.5 102.2C458.6 101.3 460.7 100.8 461.7 99.8C462.8 98.8 463.6 96.5 464.7 96.4C465.9 96.3 467.0 98.7 468.5 99.3C470.0 99.9 472.6 99.0 473.7 99.8C474.8 100.6 475.7 103.0 475.2 104.2Z" fill="#727272" stroke="#3c3c3c" stroke-width="1"/>
<path d="M424.8 126.0C425.2 127.4 424.4 129.6 423.6 130.9C422.9 132.3 421.4 134.0 420.2 134.1C419.0 134.2 417.6 131.7 416.3 131.3C415.1 131.0 413.6 132.3 412.7 131.7C411.9 131.2 411.6 129.2 411.3 127.9C411.0 126.6 410.5 125.0 410.9 123.9C411.4 122.9 413.0 122.4 413.8 121.8C414.7 121.1 415.3 120.5 416.3 120.2C417.2 119.8 418.6 119.2 419.5 119.7C420.3 120.1 420.5 121.7 421.3 122.8C422.2 123.8 424.4 124.6 424.8 126.0Z" fill="#727272" stroke="#3c3c3c" stroke-width="1"/>
</g>
<path d="M509.1 122.1 Q513.5 129.5 514.8 133.0 Q516.0 136.5 519.8 137.4 L523.6 138.3" fill="none" stroke="#d4d4d4" stroke-width="1" opacity="0.85" stroke-linecap="round"/>
<path d="M432.4 90.0 Q431.5 82.9 431.9 80.6 Q432.2 78.3 430.9 76.4 L429.6 74.5" fill="none" stroke="#d4d4d4" stroke-width="1" opacity="0.85" stroke-linecap="round"/>
<path d="M409.0 125.7 Q411.1 119.3 411.8 115.9 Q412.6 112.4 410.2 109.9 L407.8 107.5" fill="none" stroke="#d4d4d4" stroke-width="1" opacity="0.85" stroke-linecap="round"/>
<path d="M435.8 131.1 Q432.1 126.7 427.9 125.6 Q423.7 124.5 420.4 124.0 L417.1 123.5" fill="none" stroke="#d4d4d4" stroke-width="1" opacity="0.85" stroke-linecap="round"/>
<path d="M409.5 127.3 Q413.9 122.7 414.8 120.8 Q415.8 118.9 417.3 117.0 L418.7 115.1" fill="none" stroke="#d4d4d4" stroke-width="1" opacity="0.85" stroke-linecap="round"/>
<path d="M466.1 98.9 Q474.6 101.1 476.8 99.5 Q479.1 98.0 478.7 95.3 L478.4 92.6" fill="none" stroke="#d4d4d4" stroke-width="1" opacity="0.85" stroke-linecap="round"/>
<path d="M492.3 101.5 Q490.0 105.7 488.0 106.3 Q486.0 106.8 483.5 108.3 L481.1 109.8" fill="none" stroke="#d4d4d4" stroke-width="1" opacity="0.85" stroke-linecap="round"/>
<path d="M443.4 151.4 Q437.9 148.2 436.8 144.2 Q435.6 140.2 434.0 136.6 L432.3 133.0" fill="none" stroke="#d4d4d4" stroke-width="1" opacity="0.85" stroke-linecap="round"/>
<path d="M493.1 110.7 Q499.3 110.9 501.4 108.3 Q503.5 105.7 506.7 105.4 L509.9 105.1" fill="none" stroke="#d4d4d4" stroke-width="1" opacity="0.85" stroke-linecap="round"/>
<path d="M493.4 138.9 Q486.9 135.2 486.2 133.0 Q485.4 130.7 487.1 128.6 L488.7 126.5" fill="none" stroke="#d4d4d4" stroke-width="1" opacity="0.85" stroke-linecap="round"/>
<path d="M423.8 153.3 Q426.9 147.9 425.4 145.3 Q423.9 142.7 421.2 142.8 L418.5 142.9" fill="none" stroke="#d4d4d4" stroke-width="1" opacity="0.85" stroke-linecap="round"/>
<path d="M411.5 127.2 Q411.4 134.7 413.1 138.7 Q414.9 142.7 417.5 143.0 L420.2 143.3" fill="none" stroke="#d4d4d4" stroke-width="1" opacity="0.85" stroke-linecap="round"/>
<path d="M415.2 120.9 Q419.1 127.4 417.9 130.4 Q416.7 133.4 414.1 134.6 L411.4 135.8" fill="none" stroke="#d4d4d4" stroke-width="1" opacity="0.85" stroke-linecap="round"/>
<path d="M497.7 127.9 Q491.6 124.6 487.6 124.5 Q483.6 124.5 480.3 124.2 L477.1 123.9" fill="none" stroke="#d4d4d4" stroke-width="1" opacity="0.85" stroke-linecap="round"/>
<path d="M488.8 130.5 Q491.3 137.2 488.8 140.4 Q486.2 143.7 487.3 146.3 L488.3 148.9" fill="none" stroke="#d4d4d4" stroke-width="1" opacity="0.85" stroke-linecap="round"/>
<path d="M407.7 140.4 Q407.3 135.6 405.2 133.4 Q403.0 131.2 402.5 128.7 L402.1 126.2" fill="none" stroke="#d4d4d4" stroke-width="1" opacity="0.85" stroke-linecap="round"/>
<path d="M494.0 117.4 Q500.3 119.5 501.1 122.4 Q501.8 125.4 501.0 129.4 L500.2 133.5" fill="none" stroke="#d4d4d4" stroke-width="1" opacity="0.85" stroke-linecap="round"/>
<path d="M495.7 94.9 Q496.9 103.1 498.3 104.8 Q499.8 106.6 501.9 108.0 L504.0 109.4" fill="none" stroke="#d4d4d4" stroke-width="1" opacity="0.85" stroke-linecap="round"/>
<path d="M482.8 133.5 Q484.8 139.4 484.0 141.7 Q483.3 144.0 483.5 146.1 L483.8 148.3" fill="none" stroke="#d4d4d4" stroke-width="1" opacity="0.85" stroke-linecap="round"/>
<path d="M449.0 121.1 Q446.3 115.8 444.9 113.5 Q443.6 111.1 441.0 108.8 L438.4 106.4" fill="none" stroke="#d4d4d4" stroke-width="1" opacity="0.85" stroke-linecap="round"/>
<path d="M429.2 128.2 Q435.4 124.4 439.4 123.7 Q443.3 123.1 446.7 124.5 L450.1 125.8" fill="none" stroke="#d4d4d4" stroke-width="1" opacity="0.85" stroke-linecap="round"/>
<path d="M418.4 116.3 Q415.1 112.9 415.8 109.5 Q416.6 106.1 420.4 105.3 L424.2 104.5" fill="none" stroke="#d4d4d4" stroke-width="1" opacity="0.85" stroke-linecap="round"/>
<path d="M512.1 111.0 Q505.8 104.9 503.4 104.3 Q501.0 103.6 499.6 101.3 L498.2 99.0" fill="none" stroke="#d4d4d4" stroke-width="1" opacity="0.85" stroke-linecap="round"/>
<path d="M463.6 134.7 Q462.7 140.2 464.2 143.8 Q465.7 147.4 466.3 150.7 L466.9 154.1" fill="none" stroke="#d4d4d4" stroke-width="1" opacity="0.85" stroke-linecap="round"/>
<path d="M494.1 107.7 Q498.2 106.6 500.9 110.1 Q503.6 113.6 504.8 117.9 L506.0 122.2" fill="none" stroke="#d4d4d4" stroke-width="1" opacity="0.85" stroke-linecap="round"/>
<path d="M461.7 121.6 Q457.1 127.9 456.5 131.6 Q455.9 135.3 453.5 136.3 L451.2 137.4" fill="none" stroke="#d4d4d4" stroke-width="1" opacity="0.85" stroke-linecap="round"/>
<path d="M460.5 138.7 Q464.7 134.8 466.6 133.5 Q468.6 132.1 472.2 129.7 L475.8 127.2" fill="none" stroke="#d4d4d4" stroke-width="1" opacity="0.85" stroke-linecap="round"/>
<path d="M507.4 98.5 Q503.2 96.3 503.2 93.7 Q503.2 91.1 500.8 88.8 L498.5 86.6" fill="none" stroke="#d4d4d4" stroke-width="1" opacity="0.85" stroke-linecap="round"/>
<path d="M460.6 148.1 Q462.3 140.7 463.5 137.6 Q464.8 134.5 466.6 132.0 L468.4 129.5" fill="none" stroke="#d4d4d4" stroke-width="1" opacity="0.85" stroke-linecap="round"/>
<path d="M446.6 160.3 Q450.6 152.9 452.1 151.3 Q453.6 149.7 454.0 145.8 L454.4 141.8" fill="none" stroke="#d4d4d4" stroke-width="1" opacity="0.85" stroke-linecap="round"/>
<path d="M443.9 161.1 Q439.9 156.0 436.8 156.6 Q433.7 157.1 432.7 159.6 L431.6 162.2" fill="none" stroke="#d4d4d4" stroke-width="1" opacity="0.85" stroke-linecap="round"/>
<path d="M505.2 99.2 Q504.4 91.7 506.8 88.3 Q509.2 84.9 510.0 82.1 L510.7 79.3" fill="none" stroke="#d4d4d4" stroke-width="1" opacity="0.85" stroke-linecap="round"/>
<path d="M425.8 137.6 Q433.2 142.7 435.5 145.7 Q437.9 148.7 439.4 150.5 L440.8 152.3" fill="none" stroke="#d4d4d4" stroke-width="1" opacity="0.85" stroke-linecap="round"/>
<path d="M503.2 138.5 Q504.8 144.6 504.9 147.6 Q505.0 150.5 506.1 154.3 L507.2 158.1" fill="none" stroke="#d4d4d4" stroke-width="1" opacity="0.85" stroke-linecap="round"/>
<path d="M432.1 88.3 Q427.5 88.3 423.5 87.4 Q419.4 86.5 416.1 85.4 L412.8 84.3" fill="none" stroke="#d4d4d4" stroke-width="1" opacity="0.85" stroke-linecap="round"/>
<path d="M464.0 112.8 Q456.5 111.6 453.7 110.1 Q451.0 108.5 450.7 104.4 L450.3 100.2" fill="none" stroke="#d4d4d4" stroke-width="1" opacity="0.85" stroke-linecap="round"/>
<path d="M509.1 130.1 Q507.8 135.3 505.6 136.3 Q503.4 137.3 500.6 135.3 L497.8 133.2" fill="none" stroke="#d4d4d4" stroke-width="1" opacity="0.85" stroke-linecap="round"/>
<path d="M496.5 129.1 Q498.5 121.1 499.5 117.5 Q500.5 113.8 503.0 112.2 L505.5 110.7" fill="none" stroke="#d4d4d4" stroke-width="1" opacity="0.85" stroke-linecap="round"/>
<path d="M418.3 140.4 Q422.9 139.7 425.6 141.4 Q428.4 143.1 430.2 144.5 L432.1 145.9" fill="none" stroke="#d4d4d4" stroke-width="1" opacity="0.85" stroke-linecap="round"/>
<path d="M488.4 106.3 Q482.6 99.7 482.0 96.9 Q481.4 94.0 481.2 91.6 L480.9 89.1" fill="none" stroke="#d4d4d4" stroke-width="1" opacity="0.85" stroke-linecap="round"/>
<path d="M457.2 160.4 Q461.2 155.6 463.4 153.2 Q465.7 150.7 467.8 151.5 L469.9 152.3" fill="none" stroke="#d4d4d4" stroke-width="1" opacity="0.85" stroke-linecap="round"/>
<path d="M428.3 135.1 Q426.4 142.4 427.4 144.2 Q428.3 146.1 426.6 148.3 L424.9 150.5" fill="none" stroke="#d4d4d4" stroke-width="1" opacity="0.85" stroke-linecap="round"/>
<path d="M418.0 92.0 Q414.7 87.3 416.8 83.6 Q419.0 79.9 422.7 77.7 L426.4 75.6" fill="none" stroke="#d4d4d4" stroke-width="1" opacity="0.85" stroke-linecap="round"/>
<path d="M425.0 163.6 Q433.2 166.1 434.3 169.7 Q435.4 173.3 433.1 175.9 L430.8 178.6" fill="none" stroke="#d4d4d4" stroke-width="1" opacity="0.85" stroke-linecap="round"/>
<path d="M423.9 159.6 Q426.7 165.2 427.9 167.7 Q429.2 170.3 432.8 172.5 L436.4 174.7" fill="none" stroke="#d4d4d4" stroke-width="1" opacity="0.85" stroke-linecap="round"/>
<path d="M448.7 141.2 Q444.3 144.5 440.6 142.5 Q436.8 140.5 434.4 141.4 L431.9 142.2" fill="none" stroke="#d4d4d4" stroke-width="1" opacity="0.85" stroke-linecap="round"/>
<rect x="407.5" y="87.6" width="105.10000000000002" height="78.20000000000002" filter="url(#nz)" opacity="0.45"/>
<rect x="407.5" y="87.6" width="105.10000000000002" height="78.20000000000002" filter="url(#nz2)" opacity="0.35"/>
</g>
<g clip-path="url(#cB)">
<rect x="407.50" y="168.50" width="105.10" height="77.80" fill="#acacac" />
<g filter="url(#dsp2)">
<path d="M458.0 179.2C457.6 180.4 457.8 181.1 457.3 182.1C456.7 183.0 455.9 184.1 454.6 184.7C453.4 185.4 451.0 186.1 449.8 185.7C448.6 185.3 448.0 183.2 447.4 182.1C446.9 181.0 446.4 180.2 446.4 179.2C446.3 178.2 446.6 177.2 447.1 176.1C447.7 175.0 448.5 172.7 449.7 172.5C450.9 172.2 452.7 174.0 454.3 174.5C455.9 174.9 458.9 174.3 459.5 175.1C460.1 175.9 458.4 178.0 458.0 179.2Z" fill="none" stroke="#d6d6d6" stroke-width="2.6"/>
<path d="M479.9 180.2C479.6 181.9 479.8 183.4 479.0 184.7C478.1 186.0 476.5 187.0 474.6 188.0C472.8 189.0 469.6 191.3 467.7 190.9C465.7 190.5 464.4 187.4 463.1 185.6C461.7 183.8 459.4 181.8 459.7 180.2C460.0 178.6 463.5 177.5 465.0 176.0C466.4 174.5 466.6 172.4 468.4 171.4C470.2 170.4 473.6 169.2 475.6 169.8C477.7 170.3 479.8 173.0 480.5 174.7C481.2 176.5 480.1 178.5 479.9 180.2Z" fill="none" stroke="#d6d6d6" stroke-width="2.6"/>
<path d="M496.0 181.2C496.0 182.3 495.6 183.5 494.8 184.5C494.1 185.5 492.7 186.8 491.4 187.0C490.2 187.2 488.6 185.9 487.2 185.5C485.8 185.1 484.2 185.2 483.1 184.5C482.1 183.8 481.0 182.4 480.8 181.2C480.7 180.0 481.3 178.1 482.3 177.4C483.4 176.8 485.8 177.4 487.3 177.1C488.8 176.9 490.0 175.7 491.2 175.8C492.5 176.0 494.0 177.0 494.8 177.9C495.6 178.8 496.0 180.1 496.0 181.2Z" fill="none" stroke="#d6d6d6" stroke-width="2.6"/>
<path d="M431.7 197.6C431.9 198.3 431.3 199.4 430.7 200.1C430.0 200.9 429.0 201.9 427.7 202.2C426.4 202.6 424.5 202.7 423.1 202.4C421.7 202.1 419.9 201.3 419.3 200.5C418.7 199.7 419.7 198.6 419.7 197.6C419.6 196.6 418.5 195.2 419.1 194.6C419.8 194.0 422.2 193.9 423.6 193.9C424.9 193.8 426.2 193.8 427.1 194.1C428.1 194.4 428.5 195.2 429.3 195.7C430.0 196.3 431.5 196.9 431.7 197.6Z" fill="none" stroke="#d6d6d6" stroke-width="2.6"/>
<path d="M419.3 207.8C419.3 208.8 419.4 209.9 418.8 210.6C418.2 211.4 417.0 212.0 415.9 212.3C414.8 212.7 413.1 213.0 412.2 212.6C411.3 212.2 411.2 210.8 410.5 210.0C409.7 209.2 407.8 208.6 407.7 207.8C407.6 207.0 409.0 206.0 409.8 205.2C410.6 204.5 411.3 203.6 412.3 203.3C413.3 202.9 414.7 203.0 415.9 203.2C417.1 203.5 418.6 204.0 419.2 204.7C419.8 205.5 419.4 206.8 419.3 207.8Z" fill="none" stroke="#d6d6d6" stroke-width="2.6"/>
<path d="M445.1 205.8C445.2 206.8 446.4 208.1 445.9 208.9C445.3 209.8 443.4 210.5 442.0 210.8C440.5 211.1 438.6 211.1 437.3 210.7C435.9 210.4 434.7 209.5 433.9 208.7C433.0 207.8 431.9 206.6 432.2 205.8C432.6 205.0 435.2 204.7 436.0 204.0C436.9 203.3 436.7 201.8 437.6 201.5C438.4 201.2 440.0 202.1 441.2 202.4C442.5 202.6 444.5 202.4 445.2 203.0C445.8 203.6 445.0 204.8 445.1 205.8Z" fill="none" stroke="#d6d6d6" stroke-width="2.6"/>
<path d="M466.6 214.9C466.6 216.0 464.6 216.9 463.9 218.1C463.2 219.3 463.2 221.3 462.3 222.1C461.4 222.9 459.7 223.3 458.5 222.9C457.3 222.6 455.8 221.2 455.2 219.9C454.6 218.5 454.9 216.5 455.0 214.9C455.0 213.3 455.1 211.5 455.7 210.4C456.4 209.4 457.8 209.0 458.9 208.6C460.0 208.2 461.4 207.5 462.2 208.0C463.1 208.5 463.3 210.5 464.0 211.6C464.7 212.8 466.6 213.8 466.6 214.9Z" fill="none" stroke="#d6d6d6" stroke-width="2.6"/>
<path d="M417.5 219.0C417.6 219.9 416.8 220.9 416.3 221.8C415.8 222.7 415.2 224.2 414.5 224.4C413.8 224.5 413.0 222.9 412.1 222.6C411.3 222.3 409.9 222.9 409.4 222.3C408.9 221.7 409.3 220.1 409.3 219.0C409.3 217.9 409.1 216.5 409.6 215.9C410.0 215.2 411.3 215.3 412.1 215.1C412.8 214.9 413.6 214.4 414.3 214.7C414.9 214.9 415.4 215.7 416.0 216.4C416.5 217.2 417.5 218.1 417.5 219.0Z" fill="none" stroke="#d6d6d6" stroke-width="2.6"/>
<path d="M444.9 219.0C444.7 219.6 445.0 220.3 444.5 220.7C444.0 221.0 442.8 221.2 441.9 221.4C441.0 221.5 440.0 221.8 439.1 221.7C438.2 221.6 437.0 221.3 436.3 220.8C435.7 220.4 435.0 219.6 435.1 219.0C435.2 218.4 436.4 217.9 437.0 217.5C437.7 217.0 438.3 216.5 439.2 216.4C440.0 216.2 440.8 216.6 441.9 216.7C442.9 216.8 445.0 216.5 445.5 216.9C445.9 217.3 445.0 218.4 444.9 219.0Z" fill="none" stroke="#d6d6d6" stroke-width="2.6"/>
<path d="M429.2 224.5C429.5 225.2 430.2 226.6 429.3 227.0C428.4 227.4 425.3 226.9 423.8 227.0C422.3 227.0 421.7 227.4 420.2 227.4C418.8 227.4 415.9 227.6 414.9 227.1C413.9 226.6 413.9 225.2 414.3 224.5C414.8 223.8 416.6 223.4 417.6 222.9C418.6 222.4 418.9 221.9 420.2 221.5C421.4 221.1 423.6 220.3 424.9 220.5C426.2 220.6 427.1 221.8 427.8 222.5C428.6 223.2 429.0 223.8 429.2 224.5Z" fill="none" stroke="#d6d6d6" stroke-width="2.6"/>
<path d="M439.2 230.2C439.0 231.2 438.3 232.1 437.4 232.8C436.6 233.5 435.6 233.6 434.3 234.2C433.0 234.8 431.1 236.4 429.8 236.3C428.4 236.2 427.3 234.4 426.4 233.4C425.5 232.4 424.5 231.3 424.5 230.2C424.5 229.1 425.5 227.8 426.5 227.1C427.5 226.3 429.0 226.0 430.4 225.6C431.8 225.2 433.7 224.4 435.0 224.6C436.4 224.9 437.9 226.1 438.6 227.0C439.3 227.9 439.4 229.2 439.2 230.2Z" fill="none" stroke="#d6d6d6" stroke-width="2.6"/>
<path d="M489.0 229.2C489.0 230.1 486.8 231.0 486.0 231.9C485.2 232.7 484.9 234.0 484.0 234.4C483.2 234.7 482.0 234.4 480.8 234.2C479.6 234.0 477.7 234.2 476.8 233.3C476.0 232.5 475.8 230.6 475.7 229.2C475.6 227.8 475.5 225.5 476.4 224.8C477.3 224.0 479.6 224.9 481.0 224.7C482.3 224.5 483.4 223.3 484.2 223.6C485.1 223.9 485.2 225.6 486.0 226.5C486.8 227.5 489.0 228.3 489.0 229.2Z" fill="none" stroke="#d6d6d6" stroke-width="2.6"/>
<path d="M505.8 230.2C505.9 231.3 507.0 232.9 506.6 233.6C506.1 234.3 504.2 233.9 503.2 234.2C502.1 234.4 501.3 235.1 500.3 235.0C499.3 234.9 498.0 234.4 497.3 233.6C496.5 232.7 495.8 231.3 495.8 230.2C495.9 229.1 497.1 228.0 497.8 227.2C498.5 226.4 499.4 225.4 500.3 225.3C501.2 225.2 502.1 226.3 503.1 226.6C504.0 226.9 505.5 226.7 505.9 227.3C506.4 227.9 505.7 229.1 505.8 230.2Z" fill="none" stroke="#d6d6d6" stroke-width="2.6"/>
<path d="M474.0 241.5C474.0 242.5 473.8 243.6 473.2 244.6C472.6 245.5 471.5 247.2 470.4 247.3C469.3 247.5 467.6 246.0 466.5 245.5C465.4 244.9 464.4 244.7 463.9 244.0C463.4 243.4 463.5 242.3 463.5 241.5C463.6 240.7 463.6 239.7 464.2 239.1C464.7 238.6 465.8 238.2 466.7 238.0C467.6 237.7 468.6 237.5 469.6 237.6C470.7 237.7 472.4 237.8 473.2 238.5C473.9 239.1 474.0 240.5 474.0 241.5Z" fill="none" stroke="#d6d6d6" stroke-width="2.6"/>
<path d="M504.1 190.4C504.1 191.0 504.3 191.8 503.8 192.2C503.3 192.5 501.8 192.4 500.9 192.6C500.0 192.7 499.0 193.1 498.3 193.0C497.5 192.9 496.9 192.2 496.6 191.7C496.2 191.3 496.1 190.9 496.0 190.4C495.9 189.9 495.7 189.2 496.1 188.9C496.5 188.5 497.6 188.3 498.5 188.2C499.3 188.0 500.1 187.8 501.1 187.8C502.1 187.9 503.9 188.0 504.4 188.4C504.9 188.8 504.2 189.8 504.1 190.4Z" fill="none" stroke="#d6d6d6" stroke-width="2.6"/>
<path d="M477.9 203.8C478.0 204.5 475.7 205.4 474.6 206.1C473.5 206.8 472.8 207.5 471.4 207.9C470.1 208.3 467.6 208.8 466.4 208.5C465.2 208.1 464.9 206.6 464.2 205.8C463.4 205.1 462.0 204.6 461.8 203.8C461.6 203.0 462.3 202.1 463.0 201.3C463.7 200.5 465.0 199.0 466.3 198.9C467.6 198.9 469.5 200.4 470.7 200.9C471.9 201.4 472.3 201.5 473.5 202.0C474.7 202.5 477.7 203.1 477.9 203.8Z" fill="none" stroke="#d6d6d6" stroke-width="2.6"/>
<path d="M414.9 239.9C415.0 240.9 414.8 242.2 414.5 243.1C414.2 243.9 413.6 244.8 413.0 245.1C412.5 245.4 411.8 245.1 411.2 244.8C410.6 244.4 409.9 244.0 409.6 243.2C409.2 242.4 409.1 240.9 409.2 239.9C409.3 238.9 409.9 238.3 410.2 237.5C410.6 236.6 410.8 235.1 411.2 234.8C411.6 234.6 412.3 235.6 412.8 236.0C413.3 236.4 413.7 236.7 414.0 237.3C414.4 238.0 414.9 238.9 414.9 239.9Z" fill="none" stroke="#d6d6d6" stroke-width="2.6"/>
<path d="M454.0 241.5C453.8 242.3 452.7 242.7 452.1 243.4C451.5 244.1 451.3 245.6 450.6 245.9C449.8 246.1 448.5 245.2 447.4 245.0C446.2 244.7 444.1 245.1 443.7 244.5C443.2 243.9 444.5 242.5 444.6 241.5C444.6 240.5 443.6 239.3 444.1 238.7C444.6 238.2 446.4 238.7 447.5 238.3C448.6 238.0 449.7 236.5 450.8 236.6C451.8 236.6 453.2 237.8 453.8 238.6C454.3 239.4 454.3 240.7 454.0 241.5Z" fill="none" stroke="#d6d6d6" stroke-width="2.6"/>
<path d="M491.1 209.9C491.0 210.7 491.7 211.7 491.2 212.2C490.7 212.7 489.1 212.6 488.0 212.9C486.8 213.3 485.4 214.5 484.3 214.3C483.3 214.2 481.9 213.1 481.5 212.3C481.1 211.6 481.7 210.6 481.9 209.9C482.2 209.2 482.4 208.8 482.8 208.1C483.2 207.4 483.5 205.7 484.4 205.5C485.2 205.3 486.7 206.5 488.0 206.8C489.3 207.0 491.6 206.7 492.1 207.2C492.6 207.7 491.3 209.1 491.1 209.9Z" fill="none" stroke="#d6d6d6" stroke-width="2.6"/>
<path d="M460.0 194.1C460.1 194.7 459.1 195.3 458.5 195.9C457.9 196.5 457.4 197.5 456.6 197.7C455.8 197.9 454.5 197.2 453.6 196.9C452.6 196.7 451.7 196.6 450.8 196.1C450.0 195.7 448.3 194.7 448.5 194.1C448.6 193.5 450.9 193.0 451.7 192.5C452.6 192.0 452.7 191.5 453.5 191.1C454.3 190.8 455.9 190.2 456.6 190.4C457.4 190.7 457.5 191.9 458.1 192.5C458.6 193.1 459.9 193.5 460.0 194.1Z" fill="none" stroke="#d6d6d6" stroke-width="2.6"/>
<path d="M458.0 179.2C457.6 180.4 457.8 181.1 457.3 182.1C456.7 183.0 455.9 184.1 454.6 184.7C453.4 185.4 451.0 186.1 449.8 185.7C448.6 185.3 448.0 183.2 447.4 182.1C446.9 181.0 446.4 180.2 446.4 179.2C446.3 178.2 446.6 177.2 447.1 176.1C447.7 175.0 448.5 172.7 449.7 172.5C450.9 172.2 452.7 174.0 454.3 174.5C455.9 174.9 458.9 174.3 459.5 175.1C460.1 175.9 458.4 178.0 458.0 179.2Z" fill="#727272" stroke="#4a4a4a" stroke-width="0.8"/>
<path d="M479.9 180.2C479.6 181.9 479.8 183.4 479.0 184.7C478.1 186.0 476.5 187.0 474.6 188.0C472.8 189.0 469.6 191.3 467.7 190.9C465.7 190.5 464.4 187.4 463.1 185.6C461.7 183.8 459.4 181.8 459.7 180.2C460.0 178.6 463.5 177.5 465.0 176.0C466.4 174.5 466.6 172.4 468.4 171.4C470.2 170.4 473.6 169.2 475.6 169.8C477.7 170.3 479.8 173.0 480.5 174.7C481.2 176.5 480.1 178.5 479.9 180.2Z" fill="#727272" stroke="#4a4a4a" stroke-width="0.8"/>
<path d="M496.0 181.2C496.0 182.3 495.6 183.5 494.8 184.5C494.1 185.5 492.7 186.8 491.4 187.0C490.2 187.2 488.6 185.9 487.2 185.5C485.8 185.1 484.2 185.2 483.1 184.5C482.1 183.8 481.0 182.4 480.8 181.2C480.7 180.0 481.3 178.1 482.3 177.4C483.4 176.8 485.8 177.4 487.3 177.1C488.8 176.9 490.0 175.7 491.2 175.8C492.5 176.0 494.0 177.0 494.8 177.9C495.6 178.8 496.0 180.1 496.0 181.2Z" fill="#727272" stroke="#4a4a4a" stroke-width="0.8"/>
<path d="M431.7 197.6C431.9 198.3 431.3 199.4 430.7 200.1C430.0 200.9 429.0 201.9 427.7 202.2C426.4 202.6 424.5 202.7 423.1 202.4C421.7 202.1 419.9 201.3 419.3 200.5C418.7 199.7 419.7 198.6 419.7 197.6C419.6 196.6 418.5 195.2 419.1 194.6C419.8 194.0 422.2 193.9 423.6 193.9C424.9 193.8 426.2 193.8 427.1 194.1C428.1 194.4 428.5 195.2 429.3 195.7C430.0 196.3 431.5 196.9 431.7 197.6Z" fill="#727272" stroke="#4a4a4a" stroke-width="0.8"/>
<path d="M419.3 207.8C419.3 208.8 419.4 209.9 418.8 210.6C418.2 211.4 417.0 212.0 415.9 212.3C414.8 212.7 413.1 213.0 412.2 212.6C411.3 212.2 411.2 210.8 410.5 210.0C409.7 209.2 407.8 208.6 407.7 207.8C407.6 207.0 409.0 206.0 409.8 205.2C410.6 204.5 411.3 203.6 412.3 203.3C413.3 202.9 414.7 203.0 415.9 203.2C417.1 203.5 418.6 204.0 419.2 204.7C419.8 205.5 419.4 206.8 419.3 207.8Z" fill="#727272" stroke="#4a4a4a" stroke-width="0.8"/>
<path d="M445.1 205.8C445.2 206.8 446.4 208.1 445.9 208.9C445.3 209.8 443.4 210.5 442.0 210.8C440.5 211.1 438.6 211.1 437.3 210.7C435.9 210.4 434.7 209.5 433.9 208.7C433.0 207.8 431.9 206.6 432.2 205.8C432.6 205.0 435.2 204.7 436.0 204.0C436.9 203.3 436.7 201.8 437.6 201.5C438.4 201.2 440.0 202.1 441.2 202.4C442.5 202.6 444.5 202.4 445.2 203.0C445.8 203.6 445.0 204.8 445.1 205.8Z" fill="#727272" stroke="#4a4a4a" stroke-width="0.8"/>
<path d="M466.6 214.9C466.6 216.0 464.6 216.9 463.9 218.1C463.2 219.3 463.2 221.3 462.3 222.1C461.4 222.9 459.7 223.3 458.5 222.9C457.3 222.6 455.8 221.2 455.2 219.9C454.6 218.5 454.9 216.5 455.0 214.9C455.0 213.3 455.1 211.5 455.7 210.4C456.4 209.4 457.8 209.0 458.9 208.6C460.0 208.2 461.4 207.5 462.2 208.0C463.1 208.5 463.3 210.5 464.0 211.6C464.7 212.8 466.6 213.8 466.6 214.9Z" fill="#727272" stroke="#4a4a4a" stroke-width="0.8"/>
<path d="M417.5 219.0C417.6 219.9 416.8 220.9 416.3 221.8C415.8 222.7 415.2 224.2 414.5 224.4C413.8 224.5 413.0 222.9 412.1 222.6C411.3 222.3 409.9 222.9 409.4 222.3C408.9 221.7 409.3 220.1 409.3 219.0C409.3 217.9 409.1 216.5 409.6 215.9C410.0 215.2 411.3 215.3 412.1 215.1C412.8 214.9 413.6 214.4 414.3 214.7C414.9 214.9 415.4 215.7 416.0 216.4C416.5 217.2 417.5 218.1 417.5 219.0Z" fill="#727272" stroke="#4a4a4a" stroke-width="0.8"/>
<path d="M444.9 219.0C444.7 219.6 445.0 220.3 444.5 220.7C444.0 221.0 442.8 221.2 441.9 221.4C441.0 221.5 440.0 221.8 439.1 221.7C438.2 221.6 437.0 221.3 436.3 220.8C435.7 220.4 435.0 219.6 435.1 219.0C435.2 218.4 436.4 217.9 437.0 217.5C437.7 217.0 438.3 216.5 439.2 216.4C440.0 216.2 440.8 216.6 441.9 216.7C442.9 216.8 445.0 216.5 445.5 216.9C445.9 217.3 445.0 218.4 444.9 219.0Z" fill="#727272" stroke="#4a4a4a" stroke-width="0.8"/>
<path d="M429.2 224.5C429.5 225.2 430.2 226.6 429.3 227.0C428.4 227.4 425.3 226.9 423.8 227.0C422.3 227.0 421.7 227.4 420.2 227.4C418.8 227.4 415.9 227.6 414.9 227.1C413.9 226.6 413.9 225.2 414.3 224.5C414.8 223.8 416.6 223.4 417.6 222.9C418.6 222.4 418.9 221.9 420.2 221.5C421.4 221.1 423.6 220.3 424.9 220.5C426.2 220.6 427.1 221.8 427.8 222.5C428.6 223.2 429.0 223.8 429.2 224.5Z" fill="#727272" stroke="#4a4a4a" stroke-width="0.8"/>
<path d="M439.2 230.2C439.0 231.2 438.3 232.1 437.4 232.8C436.6 233.5 435.6 233.6 434.3 234.2C433.0 234.8 431.1 236.4 429.8 236.3C428.4 236.2 427.3 234.4 426.4 233.4C425.5 232.4 424.5 231.3 424.5 230.2C424.5 229.1 425.5 227.8 426.5 227.1C427.5 226.3 429.0 226.0 430.4 225.6C431.8 225.2 433.7 224.4 435.0 224.6C436.4 224.9 437.9 226.1 438.6 227.0C439.3 227.9 439.4 229.2 439.2 230.2Z" fill="#727272" stroke="#4a4a4a" stroke-width="0.8"/>
<path d="M489.0 229.2C489.0 230.1 486.8 231.0 486.0 231.9C485.2 232.7 484.9 234.0 484.0 234.4C483.2 234.7 482.0 234.4 480.8 234.2C479.6 234.0 477.7 234.2 476.8 233.3C476.0 232.5 475.8 230.6 475.7 229.2C475.6 227.8 475.5 225.5 476.4 224.8C477.3 224.0 479.6 224.9 481.0 224.7C482.3 224.5 483.4 223.3 484.2 223.6C485.1 223.9 485.2 225.6 486.0 226.5C486.8 227.5 489.0 228.3 489.0 229.2Z" fill="#727272" stroke="#4a4a4a" stroke-width="0.8"/>
<path d="M505.8 230.2C505.9 231.3 507.0 232.9 506.6 233.6C506.1 234.3 504.2 233.9 503.2 234.2C502.1 234.4 501.3 235.1 500.3 235.0C499.3 234.9 498.0 234.4 497.3 233.6C496.5 232.7 495.8 231.3 495.8 230.2C495.9 229.1 497.1 228.0 497.8 227.2C498.5 226.4 499.4 225.4 500.3 225.3C501.2 225.2 502.1 226.3 503.1 226.6C504.0 226.9 505.5 226.7 505.9 227.3C506.4 227.9 505.7 229.1 505.8 230.2Z" fill="#727272" stroke="#4a4a4a" stroke-width="0.8"/>
<path d="M474.0 241.5C474.0 242.5 473.8 243.6 473.2 244.6C472.6 245.5 471.5 247.2 470.4 247.3C469.3 247.5 467.6 246.0 466.5 245.5C465.4 244.9 464.4 244.7 463.9 244.0C463.4 243.4 463.5 242.3 463.5 241.5C463.6 240.7 463.6 239.7 464.2 239.1C464.7 238.6 465.8 238.2 466.7 238.0C467.6 237.7 468.6 237.5 469.6 237.6C470.7 237.7 472.4 237.8 473.2 238.5C473.9 239.1 474.0 240.5 474.0 241.5Z" fill="#727272" stroke="#4a4a4a" stroke-width="0.8"/>
<path d="M504.1 190.4C504.1 191.0 504.3 191.8 503.8 192.2C503.3 192.5 501.8 192.4 500.9 192.6C500.0 192.7 499.0 193.1 498.3 193.0C497.5 192.9 496.9 192.2 496.6 191.7C496.2 191.3 496.1 190.9 496.0 190.4C495.9 189.9 495.7 189.2 496.1 188.9C496.5 188.5 497.6 188.3 498.5 188.2C499.3 188.0 500.1 187.8 501.1 187.8C502.1 187.9 503.9 188.0 504.4 188.4C504.9 188.8 504.2 189.8 504.1 190.4Z" fill="#727272" stroke="#4a4a4a" stroke-width="0.8"/>
<path d="M477.9 203.8C478.0 204.5 475.7 205.4 474.6 206.1C473.5 206.8 472.8 207.5 471.4 207.9C470.1 208.3 467.6 208.8 466.4 208.5C465.2 208.1 464.9 206.6 464.2 205.8C463.4 205.1 462.0 204.6 461.8 203.8C461.6 203.0 462.3 202.1 463.0 201.3C463.7 200.5 465.0 199.0 466.3 198.9C467.6 198.9 469.5 200.4 470.7 200.9C471.9 201.4 472.3 201.5 473.5 202.0C474.7 202.5 477.7 203.1 477.9 203.8Z" fill="#727272" stroke="#4a4a4a" stroke-width="0.8"/>
<path d="M414.9 239.9C415.0 240.9 414.8 242.2 414.5 243.1C414.2 243.9 413.6 244.8 413.0 245.1C412.5 245.4 411.8 245.1 411.2 244.8C410.6 244.4 409.9 244.0 409.6 243.2C409.2 242.4 409.1 240.9 409.2 239.9C409.3 238.9 409.9 238.3 410.2 237.5C410.6 236.6 410.8 235.1 411.2 234.8C411.6 234.6 412.3 235.6 412.8 236.0C413.3 236.4 413.7 236.7 414.0 237.3C414.4 238.0 414.9 238.9 414.9 239.9Z" fill="#727272" stroke="#4a4a4a" stroke-width="0.8"/>
<path d="M454.0 241.5C453.8 242.3 452.7 242.7 452.1 243.4C451.5 244.1 451.3 245.6 450.6 245.9C449.8 246.1 448.5 245.2 447.4 245.0C446.2 244.7 444.1 245.1 443.7 244.5C443.2 243.9 444.5 242.5 444.6 241.5C444.6 240.5 443.6 239.3 444.1 238.7C444.6 238.2 446.4 238.7 447.5 238.3C448.6 238.0 449.7 236.5 450.8 236.6C451.8 236.6 453.2 237.8 453.8 238.6C454.3 239.4 454.3 240.7 454.0 241.5Z" fill="#727272" stroke="#4a4a4a" stroke-width="0.8"/>
<path d="M491.1 209.9C491.0 210.7 491.7 211.7 491.2 212.2C490.7 212.7 489.1 212.6 488.0 212.9C486.8 213.3 485.4 214.5 484.3 214.3C483.3 214.2 481.9 213.1 481.5 212.3C481.1 211.6 481.7 210.6 481.9 209.9C482.2 209.2 482.4 208.8 482.8 208.1C483.2 207.4 483.5 205.7 484.4 205.5C485.2 205.3 486.7 206.5 488.0 206.8C489.3 207.0 491.6 206.7 492.1 207.2C492.6 207.7 491.3 209.1 491.1 209.9Z" fill="#727272" stroke="#4a4a4a" stroke-width="0.8"/>
<path d="M460.0 194.1C460.1 194.7 459.1 195.3 458.5 195.9C457.9 196.5 457.4 197.5 456.6 197.7C455.8 197.9 454.5 197.2 453.6 196.9C452.6 196.7 451.7 196.6 450.8 196.1C450.0 195.7 448.3 194.7 448.5 194.1C448.6 193.5 450.9 193.0 451.7 192.5C452.6 192.0 452.7 191.5 453.5 191.1C454.3 190.8 455.9 190.2 456.6 190.4C457.4 190.7 457.5 191.9 458.1 192.5C458.6 193.1 459.9 193.5 460.0 194.1Z" fill="#727272" stroke="#4a4a4a" stroke-width="0.8"/>
</g>
<rect x="407.5" y="168.5" width="105.10000000000002" height="77.80000000000001" filter="url(#stk)" opacity="0.5"/>
<rect x="407.5" y="168.5" width="105.10000000000002" height="77.80000000000001" filter="url(#stk2)" opacity="0.6"/>
<rect x="407.5" y="168.5" width="105.10000000000002" height="77.80000000000001" filter="url(#nz)" opacity="0.3"/>
<rect x="407.5" y="168.5" width="105.10000000000002" height="77.80000000000001" filter="url(#nz2)" opacity="0.3"/>
</g>
<path d="M407.5 165.8V87.6H512.6V165.8" fill="none" stroke="#222" stroke-width="1.2"/>
<rect x="407.5" y="168.5" width="105.10000000000002" height="77.80000000000001" fill="none" stroke="#222" stroke-width="1.2"/>
<rect x="408.3" y="88.3" width="24.2" height="10.8" fill="#fff" stroke="#111" stroke-width="1.1"/>
<text id="t92" x="412.30" y="97.70" font-size="10.2" font-weight="bold" text-anchor="start" class="b" textLength="15.8" lengthAdjust="spacingAndGlyphs" >+/+</text>
<rect x="408.3" y="168.7" width="23.7" height="10.3" fill="#fff" stroke="#111" stroke-width="1.1"/>
<text id="t93" x="412.50" y="178.20" font-size="10.2" font-weight="bold" text-anchor="start" class="b" textLength="13.7" lengthAdjust="spacingAndGlyphs" >-/-</text>
<rect x="482.30" y="241.80" width="26.50" height="1.90" fill="#000" />
<text id="t94" x="387.60" y="272.00" font-size="13.4" font-weight="bold" text-anchor="start" class="b" >F</text>
<line x1="425.6" y1="262.9" x2="425.6" y2="394.6" stroke="#333" stroke-width="1.2" />
<line x1="425" y1="394" x2="499.8" y2="394" stroke="#222" stroke-width="1.3" />
<line x1="499.3" y1="262.9" x2="499.3" y2="394.6" stroke="#333" stroke-width="1.2" />
<line x1="424.1" y1="394.0" x2="425.6" y2="394.0" stroke="#333" stroke-width="1" />
<text id="t95" x="423.30" y="396.60" font-size="9.2" font-weight="bold" text-anchor="end" class="b" >0</text>
<line x1="424.1" y1="374.0" x2="425.6" y2="374.0" stroke="#333" stroke-width="1" />
<text id="t96" x="423.30" y="376.60" font-size="9.2" font-weight="bold" text-anchor="end" class="b" >100</text>
<line x1="424.1" y1="354.0" x2="425.6" y2="354.0" stroke="#333" stroke-width="1" />
<text id="t97" x="423.30" y="356.60" font-size="9.2" font-weight="bold" text-anchor="end" class="b" >200</text>
<line x1="424.1" y1="334.0" x2="425.6" y2="334.0" stroke="#333" stroke-width="1" />
<text id="t98" x="423.30" y="336.60" font-size="9.2" font-weight="bold" text-anchor="end" class="b" >300</text>
<line x1="424.1" y1="314.0" x2="425.6" y2="314.0" stroke="#333" stroke-width="1" />
<text id="t99" x="423.30" y="316.60" font-size="9.2" font-weight="bold" text-anchor="end" class="b" >400</text>
<line x1="424.1" y1="294.0" x2="425.6" y2="294.0" stroke="#333" stroke-width="1" />
<text id="t100" x="423.30" y="296.60" font-size="9.2" font-weight="bold" text-anchor="end" class="b" >500</text>
<line x1="424.1" y1="274.0" x2="425.6" y2="274.0" stroke="#333" stroke-width="1" />
<text id="t101" x="423.30" y="276.60" font-size="9.2" font-weight="bold" text-anchor="end" class="b" >600</text>
<text id="t102" transform="translate(400.90,375.00) rotate(-90)" font-size="8.8" font-weight="bold" text-anchor="start" class="b2" textLength="89.5" lengthAdjust="spacingAndGlyphs" >Tail bleeding time [s]</text>
<text id="t103" x="447.30" y="406.20" font-size="9.6" font-weight="bold" text-anchor="middle" class="b" textLength="15.4" lengthAdjust="spacingAndGlyphs" >+/+</text>
<text id="t104" x="479.20" y="406.20" font-size="9.6" font-weight="bold" text-anchor="middle" class="b" textLength="13.0" lengthAdjust="spacingAndGlyphs" >-/-</text>
<circle cx="449.59999999999997" cy="285.7" r="2.55" fill="#000"/>
<circle cx="449.59999999999997" cy="289.8" r="2.55" fill="#000"/>
<circle cx="443.9" cy="297.2" r="2.55" fill="#000"/>
<circle cx="449.59999999999997" cy="297.2" r="2.55" fill="#000"/>
<circle cx="449.59999999999997" cy="305.7" r="2.55" fill="#000"/>
<circle cx="443.9" cy="309.8" r="2.55" fill="#000"/>
<circle cx="449.59999999999997" cy="309.8" r="2.55" fill="#000"/>
<circle cx="454.9" cy="309.8" r="2.55" fill="#000"/>
<circle cx="443.9" cy="313.7" r="2.55" fill="#000"/>
<circle cx="449.59999999999997" cy="313.7" r="2.55" fill="#000"/>
<circle cx="443.9" cy="319.4" r="2.55" fill="#000"/>
<circle cx="449.59999999999997" cy="319.4" r="2.55" fill="#000"/>
<circle cx="443.9" cy="324.2" r="2.55" fill="#000"/>
<circle cx="449.59999999999997" cy="324.2" r="2.55" fill="#000"/>
<circle cx="449.59999999999997" cy="329.8" r="2.55" fill="#000"/>
<circle cx="443.9" cy="341.8" r="2.55" fill="#000"/>
<circle cx="449.59999999999997" cy="341.8" r="2.55" fill="#000"/>
<circle cx="449.59999999999997" cy="356.8" r="2.55" fill="#000"/>
<circle cx="449.59999999999997" cy="361.59999999999997" r="2.55" fill="#000"/>
<circle cx="480.3" cy="273.4" r="2.15" fill="#d0d0d0" stroke="#000" stroke-width="1.45"/>
<circle cx="480.3" cy="281.4" r="2.15" fill="#d0d0d0" stroke="#000" stroke-width="1.45"/>
<circle cx="480.3" cy="285.5" r="2.15" fill="#d0d0d0" stroke="#000" stroke-width="1.45"/>
<circle cx="480.3" cy="289.1" r="2.15" fill="#d0d0d0" stroke="#000" stroke-width="1.45"/>
<circle cx="474.8" cy="293.4" r="2.15" fill="#d0d0d0" stroke="#000" stroke-width="1.45"/>
<circle cx="480.3" cy="293.4" r="2.15" fill="#d0d0d0" stroke="#000" stroke-width="1.45"/>
<circle cx="474.8" cy="297" r="2.15" fill="#d0d0d0" stroke="#000" stroke-width="1.45"/>
<circle cx="480.3" cy="297" r="2.15" fill="#d0d0d0" stroke="#000" stroke-width="1.45"/>
<circle cx="480.3" cy="309.6" r="2.15" fill="#d0d0d0" stroke="#000" stroke-width="1.45"/>
<circle cx="474.8" cy="313.2" r="2.15" fill="#d0d0d0" stroke="#000" stroke-width="1.45"/>
<circle cx="480.3" cy="313.2" r="2.15" fill="#d0d0d0" stroke="#000" stroke-width="1.45"/>
<circle cx="474.8" cy="316.8" r="2.15" fill="#d0d0d0" stroke="#000" stroke-width="1.45"/>
<circle cx="480.3" cy="316.8" r="2.15" fill="#d0d0d0" stroke="#000" stroke-width="1.45"/>
<circle cx="480.3" cy="326.4" r="2.15" fill="#d0d0d0" stroke="#000" stroke-width="1.45"/>
<circle cx="480.3" cy="330.5" r="2.15" fill="#d0d0d0" stroke="#000" stroke-width="1.45"/>
<circle cx="480.3" cy="334.9" r="2.15" fill="#d0d0d0" stroke="#000" stroke-width="1.45"/>
<circle cx="480.3" cy="338.5" r="2.15" fill="#d0d0d0" stroke="#000" stroke-width="1.45"/>
<circle cx="480.3" cy="342.1" r="2.15" fill="#d0d0d0" stroke="#000" stroke-width="1.45"/>
<circle cx="474.8" cy="353.7" r="2.15" fill="#d0d0d0" stroke="#000" stroke-width="1.45"/>
<circle cx="480.3" cy="353.7" r="2.15" fill="#d0d0d0" stroke="#000" stroke-width="1.45"/>
<line x1="439.3" y1="316.1" x2="458.6" y2="316.1" stroke="#000" stroke-width="1.8" />
<line x1="468.7" y1="313.3" x2="487.5" y2="313.3" stroke="#000" stroke-width="1.8" />
</svg>
</body></html>
